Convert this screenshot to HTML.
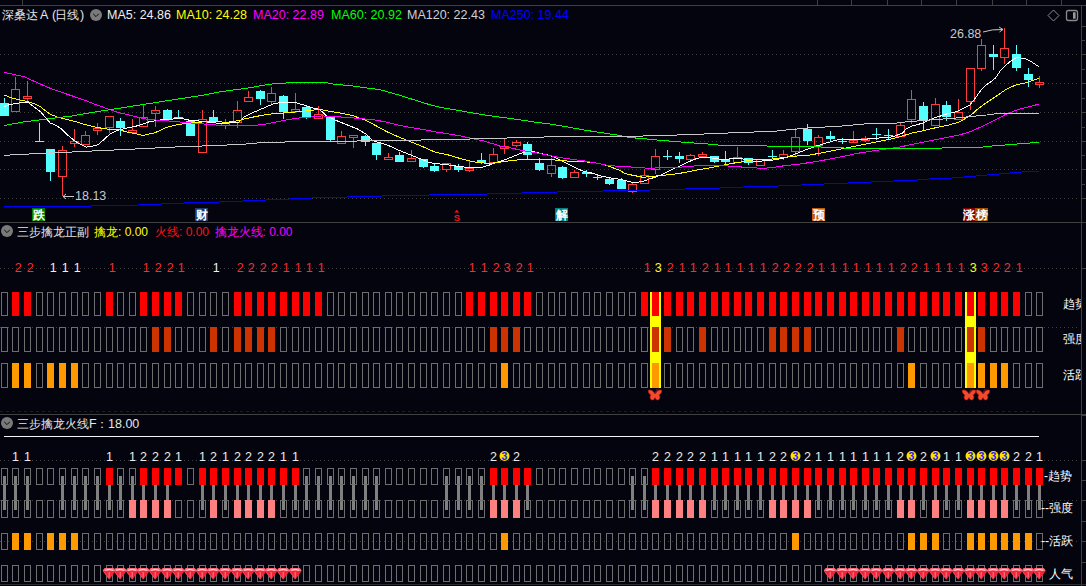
<!DOCTYPE html><html><head><meta charset="utf-8"><style>html,body{margin:0;padding:0;background:#04040e;overflow:hidden}svg{display:block}text{font-family:"Liberation Sans",sans-serif}</style></head><body><svg width="1086" height="586" viewBox="0 0 1086 586" font-family="Liberation Sans, sans-serif">
<rect width="1086" height="586" fill="#04040e"/>
<defs><g id="gem"><path d="M2.2 0 L10.6 0 Q11.8 0.5 12.8 3 L6.4 11.8 L0 3 Q1 0.5 2.2 0 Z" fill="#f22436"/><path d="M2.2 0 L10.6 0 Q11.8 0.5 12.8 3 L0 3 Q1 0.5 2.2 0 Z" fill="#ff6a7a"/><path d="M2.4 2.3 Q6.4 0.4 10.4 2.3" stroke="#ffe4e8" stroke-width="1" fill="none"/><path d="M6.4 4 L6.4 9.5" stroke="#ff8a96" stroke-width="0.9"/><path d="M1 3.6 L6.4 10.8" stroke="#ff5a6a" stroke-width="0.7"/></g><g id="bfly"><path d="M7 5 C6 2.5,3 0.5,1 1 C-0.5 1.5,0.5 4.5,3 6 C1.5 7.5,2 10.5,4 11 C5.5 11.5,6.5 9.5,7 8.5 C7.5 9.5,8.5 11.5,10 11 C12 10.5,12.5 7.5,11 6 C13.5 4.5,14.5 1.5,13 1 C11 0.5,8 2.5,7 5 Z" fill="#f24a2c" stroke="#c81a14" stroke-width="0.6"/><path d="M7 5 L8.6 0.2 M7.4 5 L10.6 -0.4" stroke="#901818" stroke-width="0.7"/></g></defs>
<rect x="0" y="5" width="1086" height="1" fill="#404040"/>
<rect x="22" y="0" width="1" height="5" fill="#404040"/>
<rect x="817" y="0" width="1" height="5" fill="#404040"/>
<rect x="851" y="0" width="1" height="5" fill="#404040"/>
<rect x="887" y="0" width="1" height="5" fill="#404040"/>
<rect x="921" y="0" width="1" height="5" fill="#404040"/>
<rect x="956" y="0" width="1" height="5" fill="#404040"/>
<rect x="992" y="0" width="1" height="5" fill="#404040"/>
<rect x="1026" y="0" width="1" height="5" fill="#404040"/>
<rect x="1061" y="0" width="1" height="5" fill="#404040"/>
<rect x="1081" y="6" width="1" height="580" fill="#404040"/>
<text y="19" fill="#e6e6e6"><tspan x="2" font-size="12">深桑达</tspan><tspan x="40" font-size="12.5">A</tspan><tspan x="52" font-size="12.5">(</tspan><tspan x="55" font-size="12">日线</tspan><tspan x="80" font-size="12.5">)</tspan></text>
<circle cx="96" cy="15" r="6" fill="#7a7a7a"/><path d="M93.2 13.8 L96 16.6 L98.8 13.8" fill="none" stroke="#0a0a0a" stroke-width="1"/>
<text x="107" y="19" font-size="12.5" fill="#f0f0f0">MA5: 24.86</text>
<text x="176" y="19" font-size="12.5" fill="#ffff00">MA10: 24.28</text>
<text x="253" y="19" font-size="12.5" fill="#ff00ff">MA20: 22.89</text>
<text x="331" y="19" font-size="12.5" fill="#00ff00">MA60: 20.92</text>
<text x="407" y="19" font-size="12.5" fill="#d0d0d0">MA120: 22.43</text>
<text x="491" y="19" font-size="12.5" fill="#0000ff">MA250: 19.44</text>
<path d="M1053.5 10 L1059 15.5 L1053.5 21 L1048 15.5 Z" fill="none" stroke="#8a8a8a" stroke-width="1"/>
<rect x="1066.5" y="10.5" width="11" height="10" rx="2" fill="none" stroke="#8a8a8a" stroke-width="1.3"/><rect x="1073" y="12.3" width="2.6" height="6.4" fill="#9a9a9a"/>
<line x1="0" y1="54.5" x2="1077" y2="54.5" stroke="#3c3c3c" stroke-width="1" stroke-dasharray="1 3"/>
<line x1="0" y1="83.5" x2="1077" y2="83.5" stroke="#3c3c3c" stroke-width="1" stroke-dasharray="1 3"/>
<line x1="0" y1="112.5" x2="1077" y2="112.5" stroke="#3c3c3c" stroke-width="1" stroke-dasharray="1 3"/>
<line x1="0" y1="141.5" x2="1077" y2="141.5" stroke="#3c3c3c" stroke-width="1" stroke-dasharray="1 3"/>
<line x1="0" y1="169.5" x2="1077" y2="169.5" stroke="#3c3c3c" stroke-width="1" stroke-dasharray="1 3"/>
<line x1="0" y1="198.5" x2="1077" y2="198.5" stroke="#3c3c3c" stroke-width="1" stroke-dasharray="1 3"/>
<rect x="1082" y="26" width="4" height="1" fill="#404040"/>
<rect x="1082" y="54" width="4" height="1" fill="#404040"/>
<rect x="1082" y="83" width="4" height="1" fill="#404040"/>
<rect x="1082" y="112" width="4" height="1" fill="#404040"/>
<rect x="1082" y="141" width="4" height="1" fill="#404040"/>
<rect x="1082" y="169" width="4" height="1" fill="#404040"/>
<rect x="1082" y="198" width="4" height="1" fill="#404040"/>
<rect x="1082" y="40" width="3" height="1" fill="#404040"/>
<rect x="1082" y="69" width="3" height="1" fill="#404040"/>
<rect x="1082" y="98" width="3" height="1" fill="#404040"/>
<rect x="1082" y="127" width="3" height="1" fill="#404040"/>
<rect x="1082" y="155" width="3" height="1" fill="#404040"/>
<rect x="1082" y="184" width="3" height="1" fill="#404040"/>
<line x1="4.5" y1="98" x2="4.5" y2="116" stroke="#54ffff"/>
<rect x="0" y="103" width="9" height="13" fill="#54ffff"/>
<line x1="15.5" y1="77" x2="15.5" y2="89" stroke="#ff3c3c"/>
<line x1="15.5" y1="112" x2="15.5" y2="112" stroke="#ff3c3c"/>
<rect x="11.5" y="89.5" width="8" height="22" fill="none" stroke="#ff3c3c" stroke-width="1"/>
<line x1="27.5" y1="81" x2="27.5" y2="96" stroke="#ff3c3c"/>
<line x1="27.5" y1="99" x2="27.5" y2="102" stroke="#ff3c3c"/>
<rect x="23.5" y="96.5" width="8" height="2" fill="none" stroke="#ff3c3c" stroke-width="1"/>
<line x1="39.5" y1="123" x2="39.5" y2="141" stroke="#54ffff"/>
<rect x="35" y="141" width="9" height="1" fill="#54ffff"/>
<line x1="50.5" y1="149" x2="50.5" y2="181" stroke="#54ffff"/>
<rect x="46" y="149" width="9" height="23" fill="#54ffff"/>
<line x1="62.5" y1="146" x2="62.5" y2="150" stroke="#ff3c3c"/>
<line x1="62.5" y1="177" x2="62.5" y2="196" stroke="#ff3c3c"/>
<rect x="58.5" y="150.5" width="8" height="26" fill="none" stroke="#ff3c3c" stroke-width="1"/>
<line x1="74.5" y1="129" x2="74.5" y2="141" stroke="#ff3c3c"/>
<line x1="74.5" y1="144" x2="74.5" y2="147" stroke="#ff3c3c"/>
<rect x="70.5" y="141.5" width="8" height="2" fill="none" stroke="#ff3c3c" stroke-width="1"/>
<line x1="85.5" y1="131" x2="85.5" y2="135" stroke="#ff3c3c"/>
<line x1="85.5" y1="145" x2="85.5" y2="145" stroke="#ff3c3c"/>
<rect x="81.5" y="135.5" width="8" height="9" fill="none" stroke="#ff3c3c" stroke-width="1"/>
<line x1="97.5" y1="123" x2="97.5" y2="128" stroke="#ff3c3c"/>
<line x1="97.5" y1="131" x2="97.5" y2="135" stroke="#ff3c3c"/>
<rect x="93.5" y="128.5" width="8" height="2" fill="none" stroke="#ff3c3c" stroke-width="1"/>
<line x1="109.5" y1="116" x2="109.5" y2="116" stroke="#ff3c3c"/>
<line x1="109.5" y1="128" x2="109.5" y2="133" stroke="#ff3c3c"/>
<rect x="105.5" y="116.5" width="8" height="11" fill="none" stroke="#ff3c3c" stroke-width="1"/>
<line x1="120.5" y1="118" x2="120.5" y2="136" stroke="#54ffff"/>
<rect x="116" y="121" width="9" height="7" fill="#54ffff"/>
<line x1="132.5" y1="119" x2="132.5" y2="130" stroke="#ff3c3c"/>
<line x1="132.5" y1="133" x2="132.5" y2="132" stroke="#ff3c3c"/>
<rect x="128.5" y="130.5" width="8" height="2" fill="none" stroke="#ff3c3c" stroke-width="1"/>
<line x1="143.5" y1="105" x2="143.5" y2="117" stroke="#ff3c3c"/>
<line x1="143.5" y1="127" x2="143.5" y2="127" stroke="#ff3c3c"/>
<rect x="139.5" y="117.5" width="8" height="9" fill="none" stroke="#ff3c3c" stroke-width="1"/>
<line x1="155.5" y1="106" x2="155.5" y2="110" stroke="#ff3c3c"/>
<line x1="155.5" y1="114" x2="155.5" y2="127" stroke="#ff3c3c"/>
<rect x="151.5" y="110.5" width="8" height="3" fill="none" stroke="#ff3c3c" stroke-width="1"/>
<line x1="167.5" y1="109" x2="167.5" y2="119" stroke="#54ffff"/>
<rect x="163" y="110" width="9" height="9" fill="#54ffff"/>
<line x1="178.5" y1="110" x2="178.5" y2="119" stroke="#54ffff"/>
<rect x="174" y="117" width="9" height="2" fill="#54ffff"/>
<line x1="190.5" y1="120" x2="190.5" y2="136" stroke="#54ffff"/>
<rect x="186" y="121" width="9" height="15" fill="#54ffff"/>
<line x1="202.5" y1="110" x2="202.5" y2="119" stroke="#ff3c3c"/>
<line x1="202.5" y1="153" x2="202.5" y2="153" stroke="#ff3c3c"/>
<rect x="198.5" y="119.5" width="8" height="33" fill="none" stroke="#ff3c3c" stroke-width="1"/>
<line x1="213.5" y1="110" x2="213.5" y2="122" stroke="#54ffff"/>
<rect x="209" y="117" width="9" height="5" fill="#54ffff"/>
<line x1="225.5" y1="119" x2="225.5" y2="123" stroke="#ff3c3c"/>
<line x1="225.5" y1="126" x2="225.5" y2="129" stroke="#ff3c3c"/>
<rect x="221.5" y="123.5" width="8" height="2" fill="none" stroke="#ff3c3c" stroke-width="1"/>
<line x1="237.5" y1="101" x2="237.5" y2="110" stroke="#ff3c3c"/>
<line x1="237.5" y1="123" x2="237.5" y2="128" stroke="#ff3c3c"/>
<rect x="233.5" y="110.5" width="8" height="12" fill="none" stroke="#ff3c3c" stroke-width="1"/>
<line x1="248.5" y1="91" x2="248.5" y2="97" stroke="#ff3c3c"/>
<line x1="248.5" y1="102" x2="248.5" y2="102" stroke="#ff3c3c"/>
<rect x="244.5" y="97.5" width="8" height="4" fill="none" stroke="#ff3c3c" stroke-width="1"/>
<line x1="260.5" y1="90" x2="260.5" y2="105" stroke="#54ffff"/>
<rect x="256" y="91" width="9" height="8" fill="#54ffff"/>
<line x1="271.5" y1="87" x2="271.5" y2="93" stroke="#ff3c3c"/>
<line x1="271.5" y1="102" x2="271.5" y2="104" stroke="#ff3c3c"/>
<rect x="267.5" y="93.5" width="8" height="8" fill="none" stroke="#ff3c3c" stroke-width="1"/>
<line x1="283.5" y1="95" x2="283.5" y2="119" stroke="#54ffff"/>
<rect x="279" y="96" width="9" height="16" fill="#54ffff"/>
<line x1="295.5" y1="93" x2="295.5" y2="109" stroke="#ff3c3c"/>
<line x1="295.5" y1="112" x2="295.5" y2="113" stroke="#ff3c3c"/>
<rect x="291.5" y="109.5" width="8" height="2" fill="none" stroke="#ff3c3c" stroke-width="1"/>
<line x1="306.5" y1="105" x2="306.5" y2="119" stroke="#54ffff"/>
<rect x="302" y="107" width="9" height="10" fill="#54ffff"/>
<line x1="318.5" y1="106" x2="318.5" y2="114" stroke="#ff3c3c"/>
<line x1="318.5" y1="119" x2="318.5" y2="119" stroke="#ff3c3c"/>
<rect x="314.5" y="114.5" width="8" height="4" fill="none" stroke="#ff3c3c" stroke-width="1"/>
<line x1="330.5" y1="116" x2="330.5" y2="141" stroke="#54ffff"/>
<rect x="326" y="116" width="9" height="24" fill="#54ffff"/>
<line x1="341.5" y1="131" x2="341.5" y2="136" stroke="#ff3c3c"/>
<line x1="341.5" y1="144" x2="341.5" y2="144" stroke="#ff3c3c"/>
<rect x="337.5" y="136.5" width="8" height="7" fill="none" stroke="#ff3c3c" stroke-width="1"/>
<line x1="353.5" y1="135" x2="353.5" y2="135" stroke="#ff3c3c"/>
<line x1="353.5" y1="138" x2="353.5" y2="148" stroke="#ff3c3c"/>
<rect x="349.5" y="135.5" width="8" height="2" fill="none" stroke="#ff3c3c" stroke-width="1"/>
<line x1="365.5" y1="135" x2="365.5" y2="146" stroke="#54ffff"/>
<rect x="361" y="136" width="9" height="6" fill="#54ffff"/>
<line x1="376.5" y1="143" x2="376.5" y2="160" stroke="#54ffff"/>
<rect x="372" y="143" width="9" height="12" fill="#54ffff"/>
<line x1="388.5" y1="153" x2="388.5" y2="157" stroke="#ff3c3c"/>
<line x1="388.5" y1="160" x2="388.5" y2="160" stroke="#ff3c3c"/>
<rect x="384.5" y="157.5" width="8" height="2" fill="none" stroke="#ff3c3c" stroke-width="1"/>
<line x1="399.5" y1="152" x2="399.5" y2="162" stroke="#54ffff"/>
<rect x="395" y="155" width="9" height="7" fill="#54ffff"/>
<line x1="411.5" y1="150" x2="411.5" y2="158" stroke="#ff3c3c"/>
<line x1="411.5" y1="162" x2="411.5" y2="162" stroke="#ff3c3c"/>
<rect x="407.5" y="158.5" width="8" height="3" fill="none" stroke="#ff3c3c" stroke-width="1"/>
<line x1="423.5" y1="159" x2="423.5" y2="168" stroke="#54ffff"/>
<rect x="419" y="159" width="9" height="8" fill="#54ffff"/>
<line x1="434.5" y1="164" x2="434.5" y2="172" stroke="#54ffff"/>
<rect x="430" y="166" width="9" height="5" fill="#54ffff"/>
<line x1="446.5" y1="163" x2="446.5" y2="163" stroke="#ff3c3c"/>
<line x1="446.5" y1="170" x2="446.5" y2="172" stroke="#ff3c3c"/>
<rect x="442.5" y="163.5" width="8" height="6" fill="none" stroke="#ff3c3c" stroke-width="1"/>
<line x1="458.5" y1="164" x2="458.5" y2="172" stroke="#54ffff"/>
<rect x="454" y="166" width="9" height="4" fill="#54ffff"/>
<line x1="469.5" y1="160" x2="469.5" y2="168" stroke="#ff3c3c"/>
<line x1="469.5" y1="171" x2="469.5" y2="172" stroke="#ff3c3c"/>
<rect x="465.5" y="168.5" width="8" height="2" fill="none" stroke="#ff3c3c" stroke-width="1"/>
<line x1="481.5" y1="153" x2="481.5" y2="164" stroke="#54ffff"/>
<rect x="477" y="160" width="9" height="3" fill="#54ffff"/>
<line x1="493.5" y1="148" x2="493.5" y2="154" stroke="#ff3c3c"/>
<line x1="493.5" y1="163" x2="493.5" y2="163" stroke="#ff3c3c"/>
<rect x="489.5" y="154.5" width="8" height="8" fill="none" stroke="#ff3c3c" stroke-width="1"/>
<line x1="504.5" y1="139" x2="504.5" y2="146" stroke="#ff3c3c"/>
<line x1="504.5" y1="149" x2="504.5" y2="154" stroke="#ff3c3c"/>
<rect x="500.5" y="146.5" width="8" height="2" fill="none" stroke="#ff3c3c" stroke-width="1"/>
<line x1="516.5" y1="140" x2="516.5" y2="142" stroke="#ff3c3c"/>
<line x1="516.5" y1="146" x2="516.5" y2="147" stroke="#ff3c3c"/>
<rect x="512.5" y="142.5" width="8" height="3" fill="none" stroke="#ff3c3c" stroke-width="1"/>
<line x1="527.5" y1="142" x2="527.5" y2="160" stroke="#54ffff"/>
<rect x="523" y="144" width="9" height="11" fill="#54ffff"/>
<line x1="539.5" y1="158" x2="539.5" y2="171" stroke="#54ffff"/>
<rect x="535" y="163" width="9" height="7" fill="#54ffff"/>
<line x1="551.5" y1="158" x2="551.5" y2="165" stroke="#ff3c3c"/>
<line x1="551.5" y1="174" x2="551.5" y2="177" stroke="#ff3c3c"/>
<rect x="547.5" y="165.5" width="8" height="8" fill="none" stroke="#ff3c3c" stroke-width="1"/>
<line x1="562.5" y1="166" x2="562.5" y2="179" stroke="#54ffff"/>
<rect x="558" y="167" width="9" height="11" fill="#54ffff"/>
<line x1="574.5" y1="170" x2="574.5" y2="172" stroke="#ff3c3c"/>
<line x1="574.5" y1="178" x2="574.5" y2="178" stroke="#ff3c3c"/>
<rect x="570.5" y="172.5" width="8" height="5" fill="none" stroke="#ff3c3c" stroke-width="1"/>
<line x1="586.5" y1="170" x2="586.5" y2="177" stroke="#54ffff"/>
<rect x="582" y="172" width="9" height="2" fill="#54ffff"/>
<line x1="597.5" y1="174" x2="597.5" y2="180" stroke="#54ffff"/>
<rect x="593" y="177" width="9" height="1" fill="#54ffff"/>
<line x1="609.5" y1="177" x2="609.5" y2="185" stroke="#54ffff"/>
<rect x="605" y="179" width="9" height="5" fill="#54ffff"/>
<line x1="621.5" y1="178" x2="621.5" y2="189" stroke="#54ffff"/>
<rect x="617" y="180" width="9" height="9" fill="#54ffff"/>
<line x1="632.5" y1="182" x2="632.5" y2="184" stroke="#ff3c3c"/>
<line x1="632.5" y1="192" x2="632.5" y2="193" stroke="#ff3c3c"/>
<rect x="628.5" y="184.5" width="8" height="7" fill="none" stroke="#ff3c3c" stroke-width="1"/>
<line x1="644.5" y1="169" x2="644.5" y2="175" stroke="#ff3c3c"/>
<line x1="644.5" y1="184" x2="644.5" y2="184" stroke="#ff3c3c"/>
<rect x="640.5" y="175.5" width="8" height="8" fill="none" stroke="#ff3c3c" stroke-width="1"/>
<line x1="655.5" y1="149" x2="655.5" y2="156" stroke="#ff3c3c"/>
<line x1="655.5" y1="170" x2="655.5" y2="174" stroke="#ff3c3c"/>
<rect x="651.5" y="156.5" width="8" height="13" fill="none" stroke="#ff3c3c" stroke-width="1"/>
<line x1="667.5" y1="150" x2="667.5" y2="160" stroke="#54ffff"/>
<rect x="663" y="156" width="9" height="1" fill="#54ffff"/>
<line x1="679.5" y1="152" x2="679.5" y2="163" stroke="#54ffff"/>
<rect x="675" y="156" width="9" height="3" fill="#54ffff"/>
<line x1="690.5" y1="154" x2="690.5" y2="155" stroke="#ff3c3c"/>
<line x1="690.5" y1="160" x2="690.5" y2="160" stroke="#ff3c3c"/>
<rect x="686.5" y="155.5" width="8" height="4" fill="none" stroke="#ff3c3c" stroke-width="1"/>
<line x1="702.5" y1="152" x2="702.5" y2="154" stroke="#ff3c3c"/>
<line x1="702.5" y1="157" x2="702.5" y2="157" stroke="#ff3c3c"/>
<rect x="698.5" y="154.5" width="8" height="2" fill="none" stroke="#ff3c3c" stroke-width="1"/>
<line x1="714.5" y1="156" x2="714.5" y2="163" stroke="#54ffff"/>
<rect x="710" y="156" width="9" height="6" fill="#54ffff"/>
<line x1="725.5" y1="151" x2="725.5" y2="164" stroke="#54ffff"/>
<rect x="721" y="159" width="9" height="3" fill="#54ffff"/>
<line x1="737.5" y1="147" x2="737.5" y2="157" stroke="#ff3c3c"/>
<line x1="737.5" y1="163" x2="737.5" y2="163" stroke="#ff3c3c"/>
<rect x="733.5" y="157.5" width="8" height="5" fill="none" stroke="#ff3c3c" stroke-width="1"/>
<line x1="748.5" y1="158" x2="748.5" y2="165" stroke="#54ffff"/>
<rect x="744" y="158" width="9" height="5" fill="#54ffff"/>
<line x1="760.5" y1="159" x2="760.5" y2="159" stroke="#ff3c3c"/>
<line x1="760.5" y1="166" x2="760.5" y2="166" stroke="#ff3c3c"/>
<rect x="756.5" y="159.5" width="8" height="6" fill="none" stroke="#ff3c3c" stroke-width="1"/>
<line x1="772.5" y1="150" x2="772.5" y2="159" stroke="#54ffff"/>
<rect x="768" y="156" width="9" height="1" fill="#54ffff"/>
<line x1="783.5" y1="150" x2="783.5" y2="154" stroke="#ff3c3c"/>
<line x1="783.5" y1="158" x2="783.5" y2="160" stroke="#ff3c3c"/>
<rect x="779.5" y="154.5" width="8" height="3" fill="none" stroke="#ff3c3c" stroke-width="1"/>
<line x1="795.5" y1="128" x2="795.5" y2="137" stroke="#ff3c3c"/>
<line x1="795.5" y1="152" x2="795.5" y2="157" stroke="#ff3c3c"/>
<rect x="791.5" y="137.5" width="8" height="14" fill="none" stroke="#ff3c3c" stroke-width="1"/>
<line x1="807.5" y1="124" x2="807.5" y2="145" stroke="#54ffff"/>
<rect x="803" y="129" width="9" height="12" fill="#54ffff"/>
<line x1="818.5" y1="135" x2="818.5" y2="137" stroke="#ff3c3c"/>
<line x1="818.5" y1="146" x2="818.5" y2="156" stroke="#ff3c3c"/>
<rect x="814.5" y="137.5" width="8" height="8" fill="none" stroke="#ff3c3c" stroke-width="1"/>
<line x1="830.5" y1="131" x2="830.5" y2="141" stroke="#54ffff"/>
<rect x="826" y="136" width="9" height="3" fill="#54ffff"/>
<line x1="842.5" y1="138" x2="842.5" y2="144" stroke="#54ffff"/>
<rect x="838" y="141" width="9" height="1" fill="#54ffff"/>
<line x1="853.5" y1="131" x2="853.5" y2="140" stroke="#ff3c3c"/>
<line x1="853.5" y1="143" x2="853.5" y2="141" stroke="#ff3c3c"/>
<rect x="849.5" y="140.5" width="8" height="2" fill="none" stroke="#ff3c3c" stroke-width="1"/>
<line x1="865.5" y1="136" x2="865.5" y2="138" stroke="#ff3c3c"/>
<line x1="865.5" y1="141" x2="865.5" y2="142" stroke="#ff3c3c"/>
<rect x="861.5" y="138.5" width="8" height="2" fill="none" stroke="#ff3c3c" stroke-width="1"/>
<line x1="876.5" y1="128" x2="876.5" y2="140" stroke="#54ffff"/>
<rect x="872" y="134" width="9" height="1" fill="#54ffff"/>
<line x1="888.5" y1="129" x2="888.5" y2="139" stroke="#54ffff"/>
<rect x="884" y="135" width="9" height="1" fill="#54ffff"/>
<line x1="900.5" y1="123" x2="900.5" y2="125" stroke="#ff3c3c"/>
<line x1="900.5" y1="137" x2="900.5" y2="137" stroke="#ff3c3c"/>
<rect x="896.5" y="125.5" width="8" height="11" fill="none" stroke="#ff3c3c" stroke-width="1"/>
<line x1="911.5" y1="90" x2="911.5" y2="99" stroke="#ff3c3c"/>
<line x1="911.5" y1="120" x2="911.5" y2="124" stroke="#ff3c3c"/>
<rect x="907.5" y="99.5" width="8" height="20" fill="none" stroke="#ff3c3c" stroke-width="1"/>
<line x1="923.5" y1="102" x2="923.5" y2="130" stroke="#54ffff"/>
<rect x="919" y="106" width="9" height="15" fill="#54ffff"/>
<line x1="935.5" y1="98" x2="935.5" y2="104" stroke="#ff3c3c"/>
<line x1="935.5" y1="126" x2="935.5" y2="126" stroke="#ff3c3c"/>
<rect x="931.5" y="104.5" width="8" height="21" fill="none" stroke="#ff3c3c" stroke-width="1"/>
<line x1="946.5" y1="101" x2="946.5" y2="121" stroke="#54ffff"/>
<rect x="942" y="105" width="9" height="12" fill="#54ffff"/>
<line x1="958.5" y1="99" x2="958.5" y2="112" stroke="#ff3c3c"/>
<line x1="958.5" y1="120" x2="958.5" y2="120" stroke="#ff3c3c"/>
<rect x="954.5" y="112.5" width="8" height="7" fill="none" stroke="#ff3c3c" stroke-width="1"/>
<line x1="970.5" y1="68" x2="970.5" y2="68" stroke="#ff3c3c"/>
<line x1="970.5" y1="102" x2="970.5" y2="110" stroke="#ff3c3c"/>
<rect x="966.5" y="68.5" width="8" height="33" fill="none" stroke="#ff3c3c" stroke-width="1"/>
<line x1="981.5" y1="39" x2="981.5" y2="45" stroke="#ff3c3c"/>
<line x1="981.5" y1="69" x2="981.5" y2="71" stroke="#ff3c3c"/>
<rect x="977.5" y="45.5" width="8" height="23" fill="none" stroke="#ff3c3c" stroke-width="1"/>
<line x1="993.5" y1="45" x2="993.5" y2="70" stroke="#54ffff"/>
<rect x="989" y="54" width="9" height="3" fill="#54ffff"/>
<line x1="1004.5" y1="28" x2="1004.5" y2="48" stroke="#ff3c3c"/>
<line x1="1004.5" y1="58" x2="1004.5" y2="64" stroke="#ff3c3c"/>
<rect x="1000.5" y="48.5" width="8" height="9" fill="none" stroke="#ff3c3c" stroke-width="1"/>
<line x1="1016.5" y1="45" x2="1016.5" y2="71" stroke="#54ffff"/>
<rect x="1012" y="54" width="9" height="14" fill="#54ffff"/>
<line x1="1028.5" y1="68" x2="1028.5" y2="87" stroke="#54ffff"/>
<rect x="1024" y="74" width="9" height="6" fill="#54ffff"/>
<line x1="1039.5" y1="76" x2="1039.5" y2="82" stroke="#ff3c3c"/>
<line x1="1039.5" y1="85" x2="1039.5" y2="88" stroke="#ff3c3c"/>
<rect x="1035.5" y="82.5" width="8" height="2" fill="none" stroke="#ff3c3c" stroke-width="1"/>
<rect x="4" y="206" width="87" height="1" fill="#0000ff"/>
<rect x="91" y="205" width="47" height="1" fill="#0000ff"/>
<rect x="138" y="204" width="23" height="1" fill="#0000ff"/>
<rect x="161" y="203" width="23" height="1" fill="#0000ff"/>
<rect x="184" y="202" width="35" height="1" fill="#0000ff"/>
<rect x="219" y="201" width="24" height="1" fill="#0000ff"/>
<rect x="243" y="200" width="23" height="1" fill="#0000ff"/>
<rect x="266" y="199" width="23" height="1" fill="#0000ff"/>
<rect x="289" y="198" width="23" height="1" fill="#0000ff"/>
<rect x="312" y="197" width="35" height="1" fill="#0000ff"/>
<rect x="347" y="196" width="35" height="1" fill="#0000ff"/>
<rect x="382" y="195" width="47" height="1" fill="#0000ff"/>
<rect x="429" y="194" width="58" height="1" fill="#0000ff"/>
<rect x="487" y="193" width="35" height="1" fill="#0000ff"/>
<rect x="522" y="192" width="35" height="1" fill="#0000ff"/>
<rect x="557" y="191" width="46" height="1" fill="#0000ff"/>
<rect x="603" y="190" width="47" height="1" fill="#0000ff"/>
<rect x="650" y="189" width="35" height="1" fill="#0000ff"/>
<rect x="685" y="188" width="35" height="1" fill="#0000ff"/>
<rect x="720" y="187" width="23" height="1" fill="#0000ff"/>
<rect x="743" y="186" width="35" height="1" fill="#0000ff"/>
<rect x="778" y="185" width="23" height="1" fill="#0000ff"/>
<rect x="801" y="184" width="23" height="1" fill="#0000ff"/>
<rect x="824" y="183" width="24" height="1" fill="#0000ff"/>
<rect x="848" y="182" width="23" height="1" fill="#0000ff"/>
<rect x="871" y="181" width="23" height="1" fill="#0000ff"/>
<rect x="894" y="180" width="23" height="1" fill="#0000ff"/>
<rect x="917" y="179" width="12" height="1" fill="#0000ff"/>
<rect x="929" y="178" width="23" height="1" fill="#0000ff"/>
<rect x="952" y="177" width="12" height="1" fill="#0000ff"/>
<rect x="964" y="176" width="12" height="1" fill="#0000ff"/>
<rect x="976" y="175" width="11" height="1" fill="#0000ff"/>
<rect x="987" y="174" width="12" height="1" fill="#0000ff"/>
<rect x="999" y="173" width="11" height="1" fill="#0000ff"/>
<rect x="1010" y="172" width="12" height="1" fill="#0000ff"/>
<rect x="1022" y="171" width="17" height="1" fill="#0000ff"/>
<polyline points="4.2,106.4 10.8,104.3 16.8,103.4 21.5,102.4 27.5,102.2 31.1,104.6 35.9,108.2 40.7,111.8 45.5,117.7 50.3,123.1 55.1,124.9 61.0,128.5 67.0,134.5 74.2,140.5 79.0,143.5 86.2,147.1 92.2,146.2 98.2,144.7 104.1,139.3 110.1,133.9 116.1,130.9 124.5,128.5 137.0,125.9 148.9,121.9 160.9,119.9 170.5,119.5 176.5,118.3 181.3,118.3 187.2,119.9 196.8,120.7 208.8,122.3 220.8,123.5 232.7,122.8 238.7,122.3 244.7,116.5 250.7,113.6 262.0,108.7 273.9,103.7 281.1,102.5 295.5,102.5 303.9,105.1 312.2,107.8 319.4,109.3 326.6,115.9 333.8,119.5 345.8,124.3 357.7,129.1 365.9,134.1 371.8,140.0 375.0,141.3 381.0,143.1 387.0,144.9 398.9,150.3 410.9,155.1 422.9,159.9 428.9,162.3 434.9,163.5 446.8,164.7 458.8,166.5 470.8,167.7 476.7,167.4 482.7,167.1 488.7,165.3 494.7,162.9 500.0,161.4 506.0,159.3 512.0,156.9 518.0,154.5 523.9,152.1 531.1,151.5 535.9,152.1 541.9,153.7 547.9,155.1 553.9,156.9 559.9,159.9 565.8,162.9 571.8,165.9 577.8,168.9 583.8,171.3 589.8,172.5 595.8,174.3 601.7,176.1 607.7,177.3 613.7,178.5 619.7,179.3 625.0,180.3 631.0,182.1 637.0,182.3 643.0,181.5 648.9,179.1 654.9,177.3 660.9,174.9 666.9,171.9 672.9,168.9 678.9,166.5 684.9,163.5 690.8,160.9 696.8,158.5 702.8,157.3 708.8,157.5 714.8,158.5 720.8,159.3 726.7,159.3 732.7,158.5 738.7,158.5 744.7,159.3 750.0,160.7 756.0,161.3 768.0,160.7 779.9,158.9 785.9,157.7 791.9,155.3 797.9,152.9 803.9,150.5 809.9,148.5 815.8,146.1 821.8,144.5 827.8,142.5 833.8,140.9 839.8,139.4 851.7,139.4 863.7,139.2 869.7,138.9 875.0,138.3 887.0,137.5 893.0,136.7 898.9,134.5 902.5,133.1 906.1,129.1 910.9,126.4 916.9,124.7 922.9,123.1 928.9,120.1 934.9,117.7 940.8,115.9 946.8,113.9 952.8,112.7 958.8,110.8 965.0,107.4 970.1,104.8 975.2,98.2 980.4,91.0 985.5,85.3 990.6,82.0 995.7,77.7 1000.9,70.0 1006.0,64.9 1011.1,60.8 1016.2,57.7 1021.4,58.0 1026.5,59.2 1031.6,61.8 1036.7,65.4 1038.8,66.6" fill="none" stroke="#ffffff" stroke-width="1" shape-rendering="crispEdges"/>
<polyline points="4.2,95.0 12.0,98.0 19.2,99.8 27.5,101.6 34.7,104.0 40.7,107.0 46.7,111.8 51.5,114.8 57.5,117.1 67.0,119.5 76.6,121.9 86.2,124.9 95.8,127.3 107.7,129.1 119.7,129.7 125.0,131.5 134.6,133.5 143.0,135.5 154.9,132.7 166.9,127.3 178.9,124.3 190.8,123.1 202.8,121.9 214.8,121.6 226.7,122.3 238.7,120.7 244.7,118.9 250.0,117.7 262.0,115.3 273.9,113.5 285.9,112.9 297.9,111.7 309.9,110.5 319.4,109.3 327.8,110.9 339.8,112.9 351.7,115.3 363.7,119.5 375.0,125.2 387.0,131.8 398.9,137.1 410.9,141.9 422.9,146.7 434.9,152.1 446.8,154.5 458.8,158.1 470.8,161.1 476.7,162.3 488.7,163.5 500.0,162.1 512.0,160.5 523.9,159.3 535.9,159.7 547.9,159.3 559.9,160.5 571.8,161.4 583.8,161.7 595.8,162.9 601.7,164.1 607.7,165.7 613.7,168.1 619.7,170.1 625.0,173.7 637.0,176.1 643.0,177.3 648.9,176.7 660.9,175.5 672.9,174.3 684.9,172.5 696.8,170.1 708.8,168.1 720.8,165.7 732.7,163.3 744.7,161.4 750.0,160.1 762.0,159.5 773.9,158.9 785.9,157.1 797.9,155.9 809.9,155.0 821.8,152.9 833.8,150.5 845.8,148.1 857.7,145.7 869.7,143.3 875.0,142.3 887.0,139.9 898.9,137.1 910.9,133.3 922.9,130.9 934.9,127.9 946.8,125.5 958.8,122.3 964.8,118.9 970.8,115.3 977.3,109.4 985.5,103.3 995.7,96.6 1006.0,89.4 1016.2,84.8 1026.5,82.6 1032.6,80.5 1038.8,78.2" fill="none" stroke="#ffff00" stroke-width="1" shape-rendering="crispEdges"/>
<polyline points="4.0,72.3 24.0,76.7 48.0,87.5 69.4,95.0 83.8,99.8 95.8,104.6 107.7,108.8 119.7,113.0 125.0,113.9 137.0,117.1 148.9,119.5 160.9,120.4 172.9,121.3 184.9,122.5 196.8,123.5 208.8,124.3 220.8,125.5 232.7,125.5 250.0,125.2 262.0,124.9 273.9,122.5 285.9,120.1 297.9,118.1 309.9,117.1 321.8,115.9 333.8,116.5 345.8,117.3 357.7,118.3 369.7,119.5 375.0,120.0 387.0,122.2 398.9,125.2 410.9,127.6 422.9,129.4 434.9,131.8 446.8,133.6 458.8,135.6 470.8,138.3 482.7,140.7 494.7,144.3 500.0,146.2 512.0,148.2 523.9,150.9 535.9,152.7 547.9,155.1 559.9,157.5 571.8,159.3 583.8,160.9 595.8,162.9 607.7,165.3 619.7,166.5 637.0,167.3 648.9,168.3 660.9,167.7 672.9,167.3 684.9,166.9 696.8,165.7 708.8,165.3 720.8,165.7 732.7,166.2 744.7,167.3 750.0,167.3 762.0,168.5 773.9,167.3 785.9,165.5 797.9,164.3 809.9,162.5 821.8,160.5 833.8,158.3 845.8,155.9 857.7,153.3 869.7,151.4 880.0,149.9 897.7,147.4 910.9,144.7 922.9,142.3 934.9,139.9 946.8,137.5 958.8,135.1 970.8,131.5 982.7,126.1 994.7,120.1 1005.0,114.8 1018.3,109.4 1028.5,106.9 1038.8,104.1" fill="none" stroke="#ff00ff" stroke-width="1" shape-rendering="crispEdges"/>
<polyline points="4.2,125.5 23.9,121.9 47.9,118.9 71.8,116.0 95.8,111.8 119.7,108.2 125.0,107.3 148.9,103.6 172.9,99.8 196.8,96.2 204.0,95.0 220.0,91.8 250.0,87.8 262.0,85.4 273.9,83.8 285.9,83.0 301.5,82.2 324.2,82.4 336.2,84.5 348.2,85.4 357.7,86.6 369.7,88.4 380.0,89.6 401.7,95.9 425.6,103.5 440.0,107.3 463.9,111.4 487.8,115.5 511.7,118.6 535.6,122.2 550.0,124.0 573.9,128.1 583.8,130.0 595.8,131.8 607.7,133.6 619.7,135.4 627.4,137.2 639.4,138.4 650.1,139.3 662.1,140.5 674.1,141.4 684.9,142.3 696.8,143.2 708.8,144.1 720.8,145.3 766.8,145.4 767.4,146.3 809.9,146.6 833.8,147.5 845.8,148.1 875.0,148.6 976.7,147.7 987.5,146.5 999.5,145.3 1005.0,145.0 1021.5,143.6 1038.9,142.4" fill="none" stroke="#00ff00" stroke-width="1" shape-rendering="crispEdges"/>
<polyline points="4.0,155.3 48.0,153.0 72.0,152.0 96.0,150.8 125.0,149.5 148.9,148.3 172.9,147.1 196.8,146.2 220.8,145.3 244.7,144.1 255.0,143.1 267.8,142.5 291.7,141.8 315.6,141.3 339.5,141.3 375.0,140.7 416.9,140.1 475.6,138.9 505.0,138.3 510.2,137.4 579.6,136.6 630.0,136.6 650.1,135.7 684.9,134.8 708.8,133.8 743.5,132.4 750.0,132.2 777.5,131.0 789.5,129.6 801.5,128.6 813.4,127.4 836.2,126.6 848.2,125.4 858.9,124.5 870.9,123.4 893.0,123.5 906.1,121.9 928.9,120.1 952.8,118.3 970.8,116.5 988.7,114.8 999.5,113.2 1038.9,113.3" fill="none" stroke="#c8c8c8" stroke-width="1" shape-rendering="crispEdges"/>
<text x="75" y="200" font-size="12.5" fill="#c8c8c8">18.13</text>
<path d="M63 196.5 L74 196.5 M63 196.5 L66 194 M63 196.5 L66 199" stroke="#c8c8c8" fill="none"/>
<text x="950" y="38" font-size="12.5" fill="#c8c8c8">26.88</text>
<path d="M983 32 Q992 29 1003 29.5 M1003 29.5 L999 27 M1003 29.5 L999.5 32" stroke="#c8c8c8" fill="none"/>
<rect x="32" y="208" width="13" height="13" fill="#008000"/>
<text x="38.5" y="219" font-size="12" font-weight="bold" fill="#ffffff" text-anchor="middle">跌</text>
<rect x="195" y="208" width="13" height="13" fill="#1c3c6c"/>
<text x="201.5" y="219" font-size="12" font-weight="bold" fill="#ffffff" text-anchor="middle">财</text>
<rect x="555" y="208" width="13" height="13" fill="#008080"/>
<text x="561.5" y="219" font-size="12" font-weight="bold" fill="#ffffff" text-anchor="middle">解</text>
<rect x="812" y="208" width="13" height="13" fill="#c05a10"/>
<text x="818.5" y="219" font-size="12" font-weight="bold" fill="#ffffff" text-anchor="middle">预</text>
<rect x="963" y="208" width="12" height="13" fill="#800000"/>
<text x="969.0" y="219" font-size="12" font-weight="bold" fill="#ffffff" text-anchor="middle">涨</text>
<rect x="975" y="208" width="13" height="13" fill="#a05000"/>
<text x="981.5" y="219" font-size="12" font-weight="bold" fill="#ffffff" text-anchor="middle">榜</text>
<path d="M456.8 209.8 L459.3 212.4 L454.3 212.4 Z" fill="#ff1010"/>
<text x="457" y="221" font-size="9.5" font-weight="bold" fill="#ff1010" text-anchor="middle">S</text>
<rect x="0" y="222" width="1086" height="1" fill="#404040"/>
<circle cx="7" cy="231" r="6" fill="#7a7a7a"/><path d="M4.2 229.8 L7 232.6 L9.8 229.8" fill="none" stroke="#0a0a0a" stroke-width="1"/>
<text x="17" y="236" font-size="12" fill="#e6e6e6">三步擒龙正副</text>
<text x="94" y="236" font-size="12" fill="#ffff00">擒龙: 0.00</text>
<text x="155" y="236" font-size="12" fill="#ff1010">火线: 0.00</text>
<text x="214.5" y="236" font-size="12" fill="#ff00ff">擒龙火线: 0.00</text>
<line x1="0" y1="268.5" x2="1077" y2="268.5" stroke="#3c3c3c" stroke-width="1" stroke-dasharray="1 3"/>
<line x1="0" y1="327.5" x2="1077" y2="327.5" stroke="#3c3c3c" stroke-width="1" stroke-dasharray="1 3"/>
<rect x="1082" y="268" width="4" height="1" fill="#404040"/><rect x="1082" y="327" width="4" height="1" fill="#404040"/>
<line x1="0" y1="411.5" x2="1039" y2="411.5" stroke="#1e1e24" stroke-dasharray="3 3"/>
<text x="18.2" y="272" font-size="12.5" fill="#ff2a2a" text-anchor="middle">2</text>
<text x="30.2" y="272" font-size="12.5" fill="#ff2a2a" text-anchor="middle">2</text>
<text x="53.2" y="272" font-size="12.5" fill="#f0f0f0" text-anchor="middle">1</text>
<text x="65.2" y="272" font-size="12.5" fill="#f0f0f0" text-anchor="middle">1</text>
<text x="77.2" y="272" font-size="12.5" fill="#f0f0f0" text-anchor="middle">1</text>
<text x="112.2" y="272" font-size="12.5" fill="#ff2a2a" text-anchor="middle">1</text>
<text x="146.2" y="272" font-size="12.5" fill="#ff2a2a" text-anchor="middle">1</text>
<text x="158.2" y="272" font-size="12.5" fill="#ff2a2a" text-anchor="middle">2</text>
<text x="170.2" y="272" font-size="12.5" fill="#ff2a2a" text-anchor="middle">2</text>
<text x="181.2" y="272" font-size="12.5" fill="#ff2a2a" text-anchor="middle">1</text>
<text x="216.2" y="272" font-size="12.5" fill="#f0f0f0" text-anchor="middle">1</text>
<text x="240.2" y="272" font-size="12.5" fill="#ff2a2a" text-anchor="middle">2</text>
<text x="251.2" y="272" font-size="12.5" fill="#ff2a2a" text-anchor="middle">2</text>
<text x="263.2" y="272" font-size="12.5" fill="#ff2a2a" text-anchor="middle">2</text>
<text x="274.2" y="272" font-size="12.5" fill="#ff2a2a" text-anchor="middle">2</text>
<text x="286.2" y="272" font-size="12.5" fill="#ff2a2a" text-anchor="middle">1</text>
<text x="298.2" y="272" font-size="12.5" fill="#ff2a2a" text-anchor="middle">1</text>
<text x="309.2" y="272" font-size="12.5" fill="#ff2a2a" text-anchor="middle">1</text>
<text x="321.2" y="272" font-size="12.5" fill="#ff2a2a" text-anchor="middle">1</text>
<text x="472.2" y="272" font-size="12.5" fill="#ff2a2a" text-anchor="middle">1</text>
<text x="484.2" y="272" font-size="12.5" fill="#ff2a2a" text-anchor="middle">1</text>
<text x="496.2" y="272" font-size="12.5" fill="#ff2a2a" text-anchor="middle">2</text>
<text x="507.2" y="272" font-size="12.5" fill="#ff2a2a" text-anchor="middle">3</text>
<text x="519.2" y="272" font-size="12.5" fill="#ff2a2a" text-anchor="middle">2</text>
<text x="530.2" y="272" font-size="12.5" fill="#ff2a2a" text-anchor="middle">1</text>
<text x="647.2" y="272" font-size="12.5" fill="#ff2a2a" text-anchor="middle">1</text>
<text x="658.2" y="272" font-size="12.5" fill="#ffff00" text-anchor="middle">3</text>
<text x="670.2" y="272" font-size="12.5" fill="#ff2a2a" text-anchor="middle">2</text>
<text x="682.2" y="272" font-size="12.5" fill="#ff2a2a" text-anchor="middle">1</text>
<text x="693.2" y="272" font-size="12.5" fill="#ff2a2a" text-anchor="middle">1</text>
<text x="705.2" y="272" font-size="12.5" fill="#ff2a2a" text-anchor="middle">2</text>
<text x="717.2" y="272" font-size="12.5" fill="#ff2a2a" text-anchor="middle">1</text>
<text x="728.2" y="272" font-size="12.5" fill="#ff2a2a" text-anchor="middle">1</text>
<text x="740.2" y="272" font-size="12.5" fill="#ff2a2a" text-anchor="middle">1</text>
<text x="751.2" y="272" font-size="12.5" fill="#ff2a2a" text-anchor="middle">1</text>
<text x="763.2" y="272" font-size="12.5" fill="#ff2a2a" text-anchor="middle">1</text>
<text x="775.2" y="272" font-size="12.5" fill="#ff2a2a" text-anchor="middle">2</text>
<text x="786.2" y="272" font-size="12.5" fill="#ff2a2a" text-anchor="middle">2</text>
<text x="798.2" y="272" font-size="12.5" fill="#ff2a2a" text-anchor="middle">2</text>
<text x="810.2" y="272" font-size="12.5" fill="#ff2a2a" text-anchor="middle">2</text>
<text x="821.2" y="272" font-size="12.5" fill="#ff2a2a" text-anchor="middle">1</text>
<text x="833.2" y="272" font-size="12.5" fill="#ff2a2a" text-anchor="middle">1</text>
<text x="845.2" y="272" font-size="12.5" fill="#ff2a2a" text-anchor="middle">1</text>
<text x="856.2" y="272" font-size="12.5" fill="#ff2a2a" text-anchor="middle">1</text>
<text x="868.2" y="272" font-size="12.5" fill="#ff2a2a" text-anchor="middle">1</text>
<text x="879.2" y="272" font-size="12.5" fill="#ff2a2a" text-anchor="middle">1</text>
<text x="891.2" y="272" font-size="12.5" fill="#ff2a2a" text-anchor="middle">1</text>
<text x="903.2" y="272" font-size="12.5" fill="#ff2a2a" text-anchor="middle">2</text>
<text x="914.2" y="272" font-size="12.5" fill="#ff2a2a" text-anchor="middle">2</text>
<text x="926.2" y="272" font-size="12.5" fill="#ff2a2a" text-anchor="middle">1</text>
<text x="938.2" y="272" font-size="12.5" fill="#ff2a2a" text-anchor="middle">1</text>
<text x="949.2" y="272" font-size="12.5" fill="#ff2a2a" text-anchor="middle">1</text>
<text x="961.2" y="272" font-size="12.5" fill="#ff2a2a" text-anchor="middle">1</text>
<text x="973.2" y="272" font-size="12.5" fill="#ffff00" text-anchor="middle">3</text>
<text x="984.2" y="272" font-size="12.5" fill="#ff2a2a" text-anchor="middle">3</text>
<text x="996.2" y="272" font-size="12.5" fill="#ff2a2a" text-anchor="middle">2</text>
<text x="1007.2" y="272" font-size="12.5" fill="#ff2a2a" text-anchor="middle">2</text>
<text x="1019.2" y="272" font-size="12.5" fill="#ff2a2a" text-anchor="middle">1</text>
<rect x="650" y="292" width="11" height="96" fill="#ffff00"/>
<rect x="965" y="292" width="11" height="96" fill="#ffff00"/>
<rect x="1.5" y="292.5" width="6" height="23" fill="none" stroke="#6e6e6e"/>
<rect x="12" y="292" width="7" height="24" fill="#ff0000"/>
<rect x="24" y="292" width="7" height="24" fill="#ff0000"/>
<rect x="36.5" y="292.5" width="6" height="23" fill="none" stroke="#6e6e6e"/>
<rect x="47.5" y="292.5" width="6" height="23" fill="none" stroke="#6e6e6e"/>
<rect x="59.5" y="292.5" width="6" height="23" fill="none" stroke="#6e6e6e"/>
<rect x="71.5" y="292.5" width="6" height="23" fill="none" stroke="#6e6e6e"/>
<rect x="82.5" y="292.5" width="6" height="23" fill="none" stroke="#6e6e6e"/>
<rect x="94.5" y="292.5" width="6" height="23" fill="none" stroke="#6e6e6e"/>
<rect x="106" y="292" width="7" height="24" fill="#ff0000"/>
<rect x="117.5" y="292.5" width="6" height="23" fill="none" stroke="#6e6e6e"/>
<rect x="129.5" y="292.5" width="6" height="23" fill="none" stroke="#6e6e6e"/>
<rect x="140" y="292" width="7" height="24" fill="#ff0000"/>
<rect x="152" y="292" width="7" height="24" fill="#ff0000"/>
<rect x="164" y="292" width="7" height="24" fill="#ff0000"/>
<rect x="175" y="292" width="7" height="24" fill="#ff0000"/>
<rect x="187.5" y="292.5" width="6" height="23" fill="none" stroke="#6e6e6e"/>
<rect x="199.5" y="292.5" width="6" height="23" fill="none" stroke="#6e6e6e"/>
<rect x="210.5" y="292.5" width="6" height="23" fill="none" stroke="#6e6e6e"/>
<rect x="222.5" y="292.5" width="6" height="23" fill="none" stroke="#6e6e6e"/>
<rect x="234" y="292" width="7" height="24" fill="#ff0000"/>
<rect x="245" y="292" width="7" height="24" fill="#ff0000"/>
<rect x="257" y="292" width="7" height="24" fill="#ff0000"/>
<rect x="268" y="292" width="7" height="24" fill="#ff0000"/>
<rect x="280" y="292" width="7" height="24" fill="#ff0000"/>
<rect x="292" y="292" width="7" height="24" fill="#ff0000"/>
<rect x="303" y="292" width="7" height="24" fill="#ff0000"/>
<rect x="315" y="292" width="7" height="24" fill="#ff0000"/>
<rect x="327.5" y="292.5" width="6" height="23" fill="none" stroke="#6e6e6e"/>
<rect x="338.5" y="292.5" width="6" height="23" fill="none" stroke="#6e6e6e"/>
<rect x="350.5" y="292.5" width="6" height="23" fill="none" stroke="#6e6e6e"/>
<rect x="362.5" y="292.5" width="6" height="23" fill="none" stroke="#6e6e6e"/>
<rect x="373.5" y="292.5" width="6" height="23" fill="none" stroke="#6e6e6e"/>
<rect x="385.5" y="292.5" width="6" height="23" fill="none" stroke="#6e6e6e"/>
<rect x="396.5" y="292.5" width="6" height="23" fill="none" stroke="#6e6e6e"/>
<rect x="408.5" y="292.5" width="6" height="23" fill="none" stroke="#6e6e6e"/>
<rect x="420.5" y="292.5" width="6" height="23" fill="none" stroke="#6e6e6e"/>
<rect x="431.5" y="292.5" width="6" height="23" fill="none" stroke="#6e6e6e"/>
<rect x="443.5" y="292.5" width="6" height="23" fill="none" stroke="#6e6e6e"/>
<rect x="455.5" y="292.5" width="6" height="23" fill="none" stroke="#6e6e6e"/>
<rect x="466" y="292" width="7" height="24" fill="#ff0000"/>
<rect x="478" y="292" width="7" height="24" fill="#ff0000"/>
<rect x="490" y="292" width="7" height="24" fill="#ff0000"/>
<rect x="501" y="292" width="7" height="24" fill="#ff0000"/>
<rect x="513" y="292" width="7" height="24" fill="#ff0000"/>
<rect x="524" y="292" width="7" height="24" fill="#ff0000"/>
<rect x="536.5" y="292.5" width="6" height="23" fill="none" stroke="#6e6e6e"/>
<rect x="548.5" y="292.5" width="6" height="23" fill="none" stroke="#6e6e6e"/>
<rect x="559.5" y="292.5" width="6" height="23" fill="none" stroke="#6e6e6e"/>
<rect x="571.5" y="292.5" width="6" height="23" fill="none" stroke="#6e6e6e"/>
<rect x="583.5" y="292.5" width="6" height="23" fill="none" stroke="#6e6e6e"/>
<rect x="594.5" y="292.5" width="6" height="23" fill="none" stroke="#6e6e6e"/>
<rect x="606.5" y="292.5" width="6" height="23" fill="none" stroke="#6e6e6e"/>
<rect x="618.5" y="292.5" width="6" height="23" fill="none" stroke="#6e6e6e"/>
<rect x="629.5" y="292.5" width="6" height="23" fill="none" stroke="#6e6e6e"/>
<rect x="641" y="292" width="7" height="24" fill="#ff0000"/>
<rect x="652" y="292" width="7" height="24" fill="#ff0000"/>
<rect x="664" y="292" width="7" height="24" fill="#ff0000"/>
<rect x="676" y="292" width="7" height="24" fill="#ff0000"/>
<rect x="687" y="292" width="7" height="24" fill="#ff0000"/>
<rect x="699" y="292" width="7" height="24" fill="#ff0000"/>
<rect x="711" y="292" width="7" height="24" fill="#ff0000"/>
<rect x="722" y="292" width="7" height="24" fill="#ff0000"/>
<rect x="734" y="292" width="7" height="24" fill="#ff0000"/>
<rect x="745" y="292" width="7" height="24" fill="#ff0000"/>
<rect x="757" y="292" width="7" height="24" fill="#ff0000"/>
<rect x="769" y="292" width="7" height="24" fill="#ff0000"/>
<rect x="780" y="292" width="7" height="24" fill="#ff0000"/>
<rect x="792" y="292" width="7" height="24" fill="#ff0000"/>
<rect x="804" y="292" width="7" height="24" fill="#ff0000"/>
<rect x="815" y="292" width="7" height="24" fill="#ff0000"/>
<rect x="827" y="292" width="7" height="24" fill="#ff0000"/>
<rect x="839" y="292" width="7" height="24" fill="#ff0000"/>
<rect x="850" y="292" width="7" height="24" fill="#ff0000"/>
<rect x="862" y="292" width="7" height="24" fill="#ff0000"/>
<rect x="873" y="292" width="7" height="24" fill="#ff0000"/>
<rect x="885" y="292" width="7" height="24" fill="#ff0000"/>
<rect x="897" y="292" width="7" height="24" fill="#ff0000"/>
<rect x="908" y="292" width="7" height="24" fill="#ff0000"/>
<rect x="920" y="292" width="7" height="24" fill="#ff0000"/>
<rect x="932" y="292" width="7" height="24" fill="#ff0000"/>
<rect x="943" y="292" width="7" height="24" fill="#ff0000"/>
<rect x="955" y="292" width="7" height="24" fill="#ff0000"/>
<rect x="967" y="292" width="7" height="24" fill="#ff0000"/>
<rect x="978" y="292" width="7" height="24" fill="#ff0000"/>
<rect x="990" y="292" width="7" height="24" fill="#ff0000"/>
<rect x="1001" y="292" width="7" height="24" fill="#ff0000"/>
<rect x="1013" y="292" width="7" height="24" fill="#ff0000"/>
<rect x="1025.5" y="292.5" width="6" height="23" fill="none" stroke="#6e6e6e"/>
<rect x="1036.5" y="292.5" width="6" height="23" fill="none" stroke="#6e6e6e"/>
<rect x="1.5" y="327.5" width="6" height="24" fill="none" stroke="#6e6e6e"/>
<rect x="12.5" y="327.5" width="6" height="24" fill="none" stroke="#6e6e6e"/>
<rect x="24.5" y="327.5" width="6" height="24" fill="none" stroke="#6e6e6e"/>
<rect x="36.5" y="327.5" width="6" height="24" fill="none" stroke="#6e6e6e"/>
<rect x="47.5" y="327.5" width="6" height="24" fill="none" stroke="#6e6e6e"/>
<rect x="59.5" y="327.5" width="6" height="24" fill="none" stroke="#6e6e6e"/>
<rect x="71.5" y="327.5" width="6" height="24" fill="none" stroke="#6e6e6e"/>
<rect x="82.5" y="327.5" width="6" height="24" fill="none" stroke="#6e6e6e"/>
<rect x="94.5" y="327.5" width="6" height="24" fill="none" stroke="#6e6e6e"/>
<rect x="106.5" y="327.5" width="6" height="24" fill="none" stroke="#6e6e6e"/>
<rect x="117.5" y="327.5" width="6" height="24" fill="none" stroke="#6e6e6e"/>
<rect x="129.5" y="327.5" width="6" height="24" fill="none" stroke="#6e6e6e"/>
<rect x="140.5" y="327.5" width="6" height="24" fill="none" stroke="#6e6e6e"/>
<rect x="152" y="327" width="7" height="25" fill="#cc3300"/>
<rect x="164" y="327" width="7" height="25" fill="#cc3300"/>
<rect x="175.5" y="327.5" width="6" height="24" fill="none" stroke="#6e6e6e"/>
<rect x="187.5" y="327.5" width="6" height="24" fill="none" stroke="#6e6e6e"/>
<rect x="199.5" y="327.5" width="6" height="24" fill="none" stroke="#6e6e6e"/>
<rect x="210" y="327" width="7" height="25" fill="#cc3300"/>
<rect x="222.5" y="327.5" width="6" height="24" fill="none" stroke="#6e6e6e"/>
<rect x="234" y="327" width="7" height="25" fill="#cc3300"/>
<rect x="245" y="327" width="7" height="25" fill="#cc3300"/>
<rect x="257" y="327" width="7" height="25" fill="#cc3300"/>
<rect x="268" y="327" width="7" height="25" fill="#cc3300"/>
<rect x="280.5" y="327.5" width="6" height="24" fill="none" stroke="#6e6e6e"/>
<rect x="292.5" y="327.5" width="6" height="24" fill="none" stroke="#6e6e6e"/>
<rect x="303.5" y="327.5" width="6" height="24" fill="none" stroke="#6e6e6e"/>
<rect x="315.5" y="327.5" width="6" height="24" fill="none" stroke="#6e6e6e"/>
<rect x="327.5" y="327.5" width="6" height="24" fill="none" stroke="#6e6e6e"/>
<rect x="338.5" y="327.5" width="6" height="24" fill="none" stroke="#6e6e6e"/>
<rect x="350.5" y="327.5" width="6" height="24" fill="none" stroke="#6e6e6e"/>
<rect x="362.5" y="327.5" width="6" height="24" fill="none" stroke="#6e6e6e"/>
<rect x="373.5" y="327.5" width="6" height="24" fill="none" stroke="#6e6e6e"/>
<rect x="385.5" y="327.5" width="6" height="24" fill="none" stroke="#6e6e6e"/>
<rect x="396.5" y="327.5" width="6" height="24" fill="none" stroke="#6e6e6e"/>
<rect x="408.5" y="327.5" width="6" height="24" fill="none" stroke="#6e6e6e"/>
<rect x="420.5" y="327.5" width="6" height="24" fill="none" stroke="#6e6e6e"/>
<rect x="431.5" y="327.5" width="6" height="24" fill="none" stroke="#6e6e6e"/>
<rect x="443.5" y="327.5" width="6" height="24" fill="none" stroke="#6e6e6e"/>
<rect x="455.5" y="327.5" width="6" height="24" fill="none" stroke="#6e6e6e"/>
<rect x="466.5" y="327.5" width="6" height="24" fill="none" stroke="#6e6e6e"/>
<rect x="478.5" y="327.5" width="6" height="24" fill="none" stroke="#6e6e6e"/>
<rect x="490" y="327" width="7" height="25" fill="#cc3300"/>
<rect x="501" y="327" width="7" height="25" fill="#cc3300"/>
<rect x="513" y="327" width="7" height="25" fill="#cc3300"/>
<rect x="524.5" y="327.5" width="6" height="24" fill="none" stroke="#6e6e6e"/>
<rect x="536.5" y="327.5" width="6" height="24" fill="none" stroke="#6e6e6e"/>
<rect x="548.5" y="327.5" width="6" height="24" fill="none" stroke="#6e6e6e"/>
<rect x="559.5" y="327.5" width="6" height="24" fill="none" stroke="#6e6e6e"/>
<rect x="571.5" y="327.5" width="6" height="24" fill="none" stroke="#6e6e6e"/>
<rect x="583.5" y="327.5" width="6" height="24" fill="none" stroke="#6e6e6e"/>
<rect x="594.5" y="327.5" width="6" height="24" fill="none" stroke="#6e6e6e"/>
<rect x="606.5" y="327.5" width="6" height="24" fill="none" stroke="#6e6e6e"/>
<rect x="618.5" y="327.5" width="6" height="24" fill="none" stroke="#6e6e6e"/>
<rect x="629.5" y="327.5" width="6" height="24" fill="none" stroke="#6e6e6e"/>
<rect x="641.5" y="327.5" width="6" height="24" fill="none" stroke="#6e6e6e"/>
<rect x="652" y="327" width="7" height="25" fill="#cc3300"/>
<rect x="664" y="327" width="7" height="25" fill="#cc3300"/>
<rect x="676.5" y="327.5" width="6" height="24" fill="none" stroke="#6e6e6e"/>
<rect x="687.5" y="327.5" width="6" height="24" fill="none" stroke="#6e6e6e"/>
<rect x="699" y="327" width="7" height="25" fill="#cc3300"/>
<rect x="711.5" y="327.5" width="6" height="24" fill="none" stroke="#6e6e6e"/>
<rect x="722.5" y="327.5" width="6" height="24" fill="none" stroke="#6e6e6e"/>
<rect x="734.5" y="327.5" width="6" height="24" fill="none" stroke="#6e6e6e"/>
<rect x="745.5" y="327.5" width="6" height="24" fill="none" stroke="#6e6e6e"/>
<rect x="757.5" y="327.5" width="6" height="24" fill="none" stroke="#6e6e6e"/>
<rect x="769" y="327" width="7" height="25" fill="#cc3300"/>
<rect x="780" y="327" width="7" height="25" fill="#cc3300"/>
<rect x="792" y="327" width="7" height="25" fill="#cc3300"/>
<rect x="804" y="327" width="7" height="25" fill="#cc3300"/>
<rect x="815.5" y="327.5" width="6" height="24" fill="none" stroke="#6e6e6e"/>
<rect x="827.5" y="327.5" width="6" height="24" fill="none" stroke="#6e6e6e"/>
<rect x="839.5" y="327.5" width="6" height="24" fill="none" stroke="#6e6e6e"/>
<rect x="850.5" y="327.5" width="6" height="24" fill="none" stroke="#6e6e6e"/>
<rect x="862.5" y="327.5" width="6" height="24" fill="none" stroke="#6e6e6e"/>
<rect x="873.5" y="327.5" width="6" height="24" fill="none" stroke="#6e6e6e"/>
<rect x="885.5" y="327.5" width="6" height="24" fill="none" stroke="#6e6e6e"/>
<rect x="897" y="327" width="7" height="25" fill="#cc3300"/>
<rect x="908.5" y="327.5" width="6" height="24" fill="none" stroke="#6e6e6e"/>
<rect x="920.5" y="327.5" width="6" height="24" fill="none" stroke="#6e6e6e"/>
<rect x="932.5" y="327.5" width="6" height="24" fill="none" stroke="#6e6e6e"/>
<rect x="943.5" y="327.5" width="6" height="24" fill="none" stroke="#6e6e6e"/>
<rect x="955.5" y="327.5" width="6" height="24" fill="none" stroke="#6e6e6e"/>
<rect x="967" y="327" width="7" height="25" fill="#cc3300"/>
<rect x="978" y="327" width="7" height="25" fill="#cc3300"/>
<rect x="990.5" y="327.5" width="6" height="24" fill="none" stroke="#6e6e6e"/>
<rect x="1001.5" y="327.5" width="6" height="24" fill="none" stroke="#6e6e6e"/>
<rect x="1013.5" y="327.5" width="6" height="24" fill="none" stroke="#6e6e6e"/>
<rect x="1025.5" y="327.5" width="6" height="24" fill="none" stroke="#6e6e6e"/>
<rect x="1036.5" y="327.5" width="6" height="24" fill="none" stroke="#6e6e6e"/>
<rect x="1.5" y="363.5" width="6" height="24" fill="none" stroke="#6e6e6e"/>
<rect x="12" y="363" width="7" height="25" fill="#ff9900"/>
<rect x="24" y="363" width="7" height="25" fill="#ff9900"/>
<rect x="36.5" y="363.5" width="6" height="24" fill="none" stroke="#6e6e6e"/>
<rect x="47" y="363" width="7" height="25" fill="#ff9900"/>
<rect x="59" y="363" width="7" height="25" fill="#ff9900"/>
<rect x="71" y="363" width="7" height="25" fill="#ff9900"/>
<rect x="82.5" y="363.5" width="6" height="24" fill="none" stroke="#6e6e6e"/>
<rect x="94.5" y="363.5" width="6" height="24" fill="none" stroke="#6e6e6e"/>
<rect x="106.5" y="363.5" width="6" height="24" fill="none" stroke="#6e6e6e"/>
<rect x="117.5" y="363.5" width="6" height="24" fill="none" stroke="#6e6e6e"/>
<rect x="129.5" y="363.5" width="6" height="24" fill="none" stroke="#6e6e6e"/>
<rect x="140.5" y="363.5" width="6" height="24" fill="none" stroke="#6e6e6e"/>
<rect x="152.5" y="363.5" width="6" height="24" fill="none" stroke="#6e6e6e"/>
<rect x="164.5" y="363.5" width="6" height="24" fill="none" stroke="#6e6e6e"/>
<rect x="175.5" y="363.5" width="6" height="24" fill="none" stroke="#6e6e6e"/>
<rect x="187.5" y="363.5" width="6" height="24" fill="none" stroke="#6e6e6e"/>
<rect x="199.5" y="363.5" width="6" height="24" fill="none" stroke="#6e6e6e"/>
<rect x="210.5" y="363.5" width="6" height="24" fill="none" stroke="#6e6e6e"/>
<rect x="222.5" y="363.5" width="6" height="24" fill="none" stroke="#6e6e6e"/>
<rect x="234.5" y="363.5" width="6" height="24" fill="none" stroke="#6e6e6e"/>
<rect x="245.5" y="363.5" width="6" height="24" fill="none" stroke="#6e6e6e"/>
<rect x="257.5" y="363.5" width="6" height="24" fill="none" stroke="#6e6e6e"/>
<rect x="268.5" y="363.5" width="6" height="24" fill="none" stroke="#6e6e6e"/>
<rect x="280.5" y="363.5" width="6" height="24" fill="none" stroke="#6e6e6e"/>
<rect x="292.5" y="363.5" width="6" height="24" fill="none" stroke="#6e6e6e"/>
<rect x="303.5" y="363.5" width="6" height="24" fill="none" stroke="#6e6e6e"/>
<rect x="315.5" y="363.5" width="6" height="24" fill="none" stroke="#6e6e6e"/>
<rect x="327.5" y="363.5" width="6" height="24" fill="none" stroke="#6e6e6e"/>
<rect x="338.5" y="363.5" width="6" height="24" fill="none" stroke="#6e6e6e"/>
<rect x="350.5" y="363.5" width="6" height="24" fill="none" stroke="#6e6e6e"/>
<rect x="362.5" y="363.5" width="6" height="24" fill="none" stroke="#6e6e6e"/>
<rect x="373.5" y="363.5" width="6" height="24" fill="none" stroke="#6e6e6e"/>
<rect x="385.5" y="363.5" width="6" height="24" fill="none" stroke="#6e6e6e"/>
<rect x="396.5" y="363.5" width="6" height="24" fill="none" stroke="#6e6e6e"/>
<rect x="408.5" y="363.5" width="6" height="24" fill="none" stroke="#6e6e6e"/>
<rect x="420.5" y="363.5" width="6" height="24" fill="none" stroke="#6e6e6e"/>
<rect x="431.5" y="363.5" width="6" height="24" fill="none" stroke="#6e6e6e"/>
<rect x="443.5" y="363.5" width="6" height="24" fill="none" stroke="#6e6e6e"/>
<rect x="455.5" y="363.5" width="6" height="24" fill="none" stroke="#6e6e6e"/>
<rect x="466.5" y="363.5" width="6" height="24" fill="none" stroke="#6e6e6e"/>
<rect x="478.5" y="363.5" width="6" height="24" fill="none" stroke="#6e6e6e"/>
<rect x="490.5" y="363.5" width="6" height="24" fill="none" stroke="#6e6e6e"/>
<rect x="501" y="363" width="7" height="25" fill="#ff9900"/>
<rect x="513.5" y="363.5" width="6" height="24" fill="none" stroke="#6e6e6e"/>
<rect x="524.5" y="363.5" width="6" height="24" fill="none" stroke="#6e6e6e"/>
<rect x="536.5" y="363.5" width="6" height="24" fill="none" stroke="#6e6e6e"/>
<rect x="548.5" y="363.5" width="6" height="24" fill="none" stroke="#6e6e6e"/>
<rect x="559.5" y="363.5" width="6" height="24" fill="none" stroke="#6e6e6e"/>
<rect x="571.5" y="363.5" width="6" height="24" fill="none" stroke="#6e6e6e"/>
<rect x="583.5" y="363.5" width="6" height="24" fill="none" stroke="#6e6e6e"/>
<rect x="594.5" y="363.5" width="6" height="24" fill="none" stroke="#6e6e6e"/>
<rect x="606.5" y="363.5" width="6" height="24" fill="none" stroke="#6e6e6e"/>
<rect x="618.5" y="363.5" width="6" height="24" fill="none" stroke="#6e6e6e"/>
<rect x="629.5" y="363.5" width="6" height="24" fill="none" stroke="#6e6e6e"/>
<rect x="641.5" y="363.5" width="6" height="24" fill="none" stroke="#6e6e6e"/>
<rect x="652" y="363" width="7" height="25" fill="#ff9900"/>
<rect x="664.5" y="363.5" width="6" height="24" fill="none" stroke="#6e6e6e"/>
<rect x="676.5" y="363.5" width="6" height="24" fill="none" stroke="#6e6e6e"/>
<rect x="687.5" y="363.5" width="6" height="24" fill="none" stroke="#6e6e6e"/>
<rect x="699.5" y="363.5" width="6" height="24" fill="none" stroke="#6e6e6e"/>
<rect x="711.5" y="363.5" width="6" height="24" fill="none" stroke="#6e6e6e"/>
<rect x="722.5" y="363.5" width="6" height="24" fill="none" stroke="#6e6e6e"/>
<rect x="734.5" y="363.5" width="6" height="24" fill="none" stroke="#6e6e6e"/>
<rect x="745.5" y="363.5" width="6" height="24" fill="none" stroke="#6e6e6e"/>
<rect x="757.5" y="363.5" width="6" height="24" fill="none" stroke="#6e6e6e"/>
<rect x="769.5" y="363.5" width="6" height="24" fill="none" stroke="#6e6e6e"/>
<rect x="780.5" y="363.5" width="6" height="24" fill="none" stroke="#6e6e6e"/>
<rect x="792.5" y="363.5" width="6" height="24" fill="none" stroke="#6e6e6e"/>
<rect x="804.5" y="363.5" width="6" height="24" fill="none" stroke="#6e6e6e"/>
<rect x="815.5" y="363.5" width="6" height="24" fill="none" stroke="#6e6e6e"/>
<rect x="827.5" y="363.5" width="6" height="24" fill="none" stroke="#6e6e6e"/>
<rect x="839.5" y="363.5" width="6" height="24" fill="none" stroke="#6e6e6e"/>
<rect x="850.5" y="363.5" width="6" height="24" fill="none" stroke="#6e6e6e"/>
<rect x="862.5" y="363.5" width="6" height="24" fill="none" stroke="#6e6e6e"/>
<rect x="873.5" y="363.5" width="6" height="24" fill="none" stroke="#6e6e6e"/>
<rect x="885.5" y="363.5" width="6" height="24" fill="none" stroke="#6e6e6e"/>
<rect x="897.5" y="363.5" width="6" height="24" fill="none" stroke="#6e6e6e"/>
<rect x="908" y="363" width="7" height="25" fill="#ff9900"/>
<rect x="920.5" y="363.5" width="6" height="24" fill="none" stroke="#6e6e6e"/>
<rect x="932.5" y="363.5" width="6" height="24" fill="none" stroke="#6e6e6e"/>
<rect x="943.5" y="363.5" width="6" height="24" fill="none" stroke="#6e6e6e"/>
<rect x="955.5" y="363.5" width="6" height="24" fill="none" stroke="#6e6e6e"/>
<rect x="967" y="363" width="7" height="25" fill="#ff9900"/>
<rect x="978" y="363" width="7" height="25" fill="#ff9900"/>
<rect x="990" y="363" width="7" height="25" fill="#ff9900"/>
<rect x="1001" y="363" width="7" height="25" fill="#ff9900"/>
<rect x="1013.5" y="363.5" width="6" height="24" fill="none" stroke="#6e6e6e"/>
<rect x="1025.5" y="363.5" width="6" height="24" fill="none" stroke="#6e6e6e"/>
<rect x="1036.5" y="363.5" width="6" height="24" fill="none" stroke="#6e6e6e"/>
<use href="#bfly" x="648" y="389"/>
<use href="#bfly" x="962" y="389"/>
<use href="#bfly" x="976" y="389"/>
<text x="1063" y="308" font-size="12" fill="#ffffff">趋势</text>
<text x="1063" y="343" font-size="12" fill="#ffffff">强度</text>
<text x="1063" y="379" font-size="12" fill="#ffffff">活跃</text>
<rect x="1081" y="290" width="5" height="100" fill="#04040e"/><rect x="1081" y="290" width="1" height="100" fill="#404040"/>
<rect x="0" y="414" width="1086" height="1" fill="#404040"/>
<rect x="1082" y="415" width="4" height="1" fill="#404040"/>
<circle cx="7" cy="423" r="6" fill="#7a7a7a"/><path d="M4.2 421.8 L7 424.6 L9.8 421.8" fill="none" stroke="#0a0a0a" stroke-width="1"/>
<text y="428" fill="#e6e6e6"><tspan x="17" font-size="12">三步擒龙火线</tspan><tspan x="89" font-size="12.5">F</tspan><tspan x="96" font-size="12">：</tspan><tspan x="108" font-size="12.5">18.00</tspan></text>
<rect x="4" y="436" width="1035" height="1" fill="#f4f4f4"/>
<line x1="0" y1="460.5" x2="1077" y2="460.5" stroke="#3c3c3c" stroke-width="1" stroke-dasharray="1 3"/>
<line x1="0" y1="500.5" x2="1077" y2="500.5" stroke="#3c3c3c" stroke-width="1" stroke-dasharray="1 3"/>
<line x1="0" y1="541.5" x2="1077" y2="541.5" stroke="#3c3c3c" stroke-width="1" stroke-dasharray="1 3"/>
<rect x="1082" y="460" width="4" height="1" fill="#404040"/>
<rect x="1082" y="480" width="4" height="1" fill="#404040"/>
<rect x="1082" y="500" width="4" height="1" fill="#404040"/>
<rect x="1082" y="521" width="4" height="1" fill="#404040"/>
<rect x="1082" y="541" width="4" height="1" fill="#404040"/>
<rect x="1082" y="562" width="4" height="1" fill="#404040"/>
<text x="15.5" y="460.5" font-size="12.5" fill="#ececec" text-anchor="middle">1</text>
<text x="27.5" y="460.5" font-size="12.5" fill="#ececec" text-anchor="middle">1</text>
<text x="109.5" y="460.5" font-size="12.5" fill="#ececec" text-anchor="middle">1</text>
<text x="132.5" y="460.5" font-size="12.5" fill="#ececec" text-anchor="middle">1</text>
<text x="143.5" y="460.5" font-size="12.5" fill="#ececec" text-anchor="middle">2</text>
<text x="155.5" y="460.5" font-size="12.5" fill="#ececec" text-anchor="middle">2</text>
<text x="167.5" y="460.5" font-size="12.5" fill="#ececec" text-anchor="middle">2</text>
<text x="178.5" y="460.5" font-size="12.5" fill="#ececec" text-anchor="middle">1</text>
<text x="202.5" y="460.5" font-size="12.5" fill="#ececec" text-anchor="middle">1</text>
<text x="213.5" y="460.5" font-size="12.5" fill="#ececec" text-anchor="middle">2</text>
<text x="225.5" y="460.5" font-size="12.5" fill="#ececec" text-anchor="middle">1</text>
<text x="237.5" y="460.5" font-size="12.5" fill="#ececec" text-anchor="middle">2</text>
<text x="248.5" y="460.5" font-size="12.5" fill="#ececec" text-anchor="middle">2</text>
<text x="260.5" y="460.5" font-size="12.5" fill="#ececec" text-anchor="middle">2</text>
<text x="271.5" y="460.5" font-size="12.5" fill="#ececec" text-anchor="middle">2</text>
<text x="283.5" y="460.5" font-size="12.5" fill="#ececec" text-anchor="middle">1</text>
<text x="295.5" y="460.5" font-size="12.5" fill="#ececec" text-anchor="middle">1</text>
<text x="493.5" y="460.5" font-size="12.5" fill="#ececec" text-anchor="middle">2</text>
<circle cx="504.5" cy="456" r="5" fill="#ffe000"/>
<text x="504.5" y="460" font-size="10.5" font-weight="bold" fill="#2020ff" text-anchor="middle">3</text>
<text x="516.5" y="460.5" font-size="12.5" fill="#ececec" text-anchor="middle">2</text>
<text x="655.5" y="460.5" font-size="12.5" fill="#ececec" text-anchor="middle">2</text>
<text x="667.5" y="460.5" font-size="12.5" fill="#ececec" text-anchor="middle">2</text>
<text x="679.5" y="460.5" font-size="12.5" fill="#ececec" text-anchor="middle">2</text>
<text x="690.5" y="460.5" font-size="12.5" fill="#ececec" text-anchor="middle">2</text>
<text x="702.5" y="460.5" font-size="12.5" fill="#ececec" text-anchor="middle">2</text>
<text x="714.5" y="460.5" font-size="12.5" fill="#ececec" text-anchor="middle">1</text>
<text x="725.5" y="460.5" font-size="12.5" fill="#ececec" text-anchor="middle">1</text>
<text x="737.5" y="460.5" font-size="12.5" fill="#ececec" text-anchor="middle">1</text>
<text x="748.5" y="460.5" font-size="12.5" fill="#ececec" text-anchor="middle">1</text>
<text x="760.5" y="460.5" font-size="12.5" fill="#ececec" text-anchor="middle">1</text>
<text x="772.5" y="460.5" font-size="12.5" fill="#ececec" text-anchor="middle">2</text>
<text x="783.5" y="460.5" font-size="12.5" fill="#ececec" text-anchor="middle">2</text>
<circle cx="795.5" cy="456" r="5" fill="#ffe000"/>
<text x="795.5" y="460" font-size="10.5" font-weight="bold" fill="#2020ff" text-anchor="middle">3</text>
<text x="807.5" y="460.5" font-size="12.5" fill="#ececec" text-anchor="middle">2</text>
<text x="818.5" y="460.5" font-size="12.5" fill="#ececec" text-anchor="middle">1</text>
<text x="830.5" y="460.5" font-size="12.5" fill="#ececec" text-anchor="middle">1</text>
<text x="842.5" y="460.5" font-size="12.5" fill="#ececec" text-anchor="middle">1</text>
<text x="853.5" y="460.5" font-size="12.5" fill="#ececec" text-anchor="middle">1</text>
<text x="865.5" y="460.5" font-size="12.5" fill="#ececec" text-anchor="middle">1</text>
<text x="876.5" y="460.5" font-size="12.5" fill="#ececec" text-anchor="middle">1</text>
<text x="888.5" y="460.5" font-size="12.5" fill="#ececec" text-anchor="middle">1</text>
<text x="900.5" y="460.5" font-size="12.5" fill="#ececec" text-anchor="middle">2</text>
<circle cx="911.5" cy="456" r="5" fill="#ffe000"/>
<text x="911.5" y="460" font-size="10.5" font-weight="bold" fill="#2020ff" text-anchor="middle">3</text>
<text x="923.5" y="460.5" font-size="12.5" fill="#ececec" text-anchor="middle">2</text>
<circle cx="935.5" cy="456" r="5" fill="#ffe000"/>
<text x="935.5" y="460" font-size="10.5" font-weight="bold" fill="#2020ff" text-anchor="middle">3</text>
<text x="946.5" y="460.5" font-size="12.5" fill="#ececec" text-anchor="middle">1</text>
<text x="958.5" y="460.5" font-size="12.5" fill="#ececec" text-anchor="middle">1</text>
<circle cx="970.5" cy="456" r="5" fill="#ffe000"/>
<text x="970.5" y="460" font-size="10.5" font-weight="bold" fill="#2020ff" text-anchor="middle">3</text>
<circle cx="981.5" cy="456" r="5" fill="#ffe000"/>
<text x="981.5" y="460" font-size="10.5" font-weight="bold" fill="#2020ff" text-anchor="middle">3</text>
<circle cx="993.5" cy="456" r="5" fill="#ffe000"/>
<text x="993.5" y="460" font-size="10.5" font-weight="bold" fill="#2020ff" text-anchor="middle">3</text>
<circle cx="1004.5" cy="456" r="5" fill="#ffe000"/>
<text x="1004.5" y="460" font-size="10.5" font-weight="bold" fill="#2020ff" text-anchor="middle">3</text>
<text x="1016.5" y="460.5" font-size="12.5" fill="#ececec" text-anchor="middle">2</text>
<text x="1028.5" y="460.5" font-size="12.5" fill="#ececec" text-anchor="middle">2</text>
<text x="1039.5" y="460.5" font-size="12.5" fill="#ececec" text-anchor="middle">1</text>
<rect x="3" y="476" width="3" height="34" fill="#808080"/>
<rect x="14" y="476" width="3" height="34" fill="#808080"/>
<rect x="26" y="476" width="3" height="34" fill="#808080"/>
<rect x="61" y="476" width="3" height="34" fill="#808080"/>
<rect x="73" y="476" width="3" height="34" fill="#808080"/>
<rect x="84" y="476" width="3" height="34" fill="#808080"/>
<rect x="96" y="476" width="3" height="34" fill="#808080"/>
<rect x="108" y="476" width="3" height="34" fill="#808080"/>
<rect x="119" y="476" width="3" height="34" fill="#808080"/>
<rect x="131" y="476" width="3" height="34" fill="#808080"/>
<rect x="142" y="476" width="3" height="34" fill="#808080"/>
<rect x="154" y="476" width="3" height="34" fill="#808080"/>
<rect x="166" y="476" width="3" height="34" fill="#808080"/>
<rect x="201" y="476" width="3" height="34" fill="#808080"/>
<rect x="212" y="476" width="3" height="34" fill="#808080"/>
<rect x="224" y="476" width="3" height="34" fill="#808080"/>
<rect x="236" y="476" width="3" height="34" fill="#808080"/>
<rect x="247" y="476" width="3" height="34" fill="#808080"/>
<rect x="259" y="476" width="3" height="34" fill="#808080"/>
<rect x="270" y="476" width="3" height="34" fill="#808080"/>
<rect x="282" y="476" width="3" height="34" fill="#808080"/>
<rect x="294" y="476" width="3" height="34" fill="#808080"/>
<rect x="305" y="476" width="3" height="34" fill="#808080"/>
<rect x="317" y="476" width="3" height="34" fill="#808080"/>
<rect x="329" y="476" width="3" height="34" fill="#808080"/>
<rect x="340" y="476" width="3" height="34" fill="#808080"/>
<rect x="352" y="476" width="3" height="34" fill="#808080"/>
<rect x="364" y="476" width="3" height="34" fill="#808080"/>
<rect x="375" y="476" width="3" height="34" fill="#808080"/>
<rect x="445" y="476" width="3" height="34" fill="#808080"/>
<rect x="457" y="476" width="3" height="34" fill="#808080"/>
<rect x="468" y="476" width="3" height="34" fill="#808080"/>
<rect x="480" y="476" width="3" height="34" fill="#808080"/>
<rect x="492" y="476" width="3" height="34" fill="#808080"/>
<rect x="503" y="476" width="3" height="34" fill="#808080"/>
<rect x="515" y="476" width="3" height="34" fill="#808080"/>
<rect x="526" y="476" width="3" height="34" fill="#808080"/>
<rect x="631" y="476" width="3" height="34" fill="#808080"/>
<rect x="643" y="476" width="3" height="34" fill="#808080"/>
<rect x="654" y="476" width="3" height="34" fill="#808080"/>
<rect x="666" y="476" width="3" height="34" fill="#808080"/>
<rect x="678" y="476" width="3" height="34" fill="#808080"/>
<rect x="689" y="476" width="3" height="34" fill="#808080"/>
<rect x="701" y="476" width="3" height="34" fill="#808080"/>
<rect x="713" y="476" width="3" height="34" fill="#808080"/>
<rect x="724" y="476" width="3" height="34" fill="#808080"/>
<rect x="736" y="476" width="3" height="34" fill="#808080"/>
<rect x="747" y="476" width="3" height="34" fill="#808080"/>
<rect x="759" y="476" width="3" height="34" fill="#808080"/>
<rect x="771" y="476" width="3" height="34" fill="#808080"/>
<rect x="782" y="476" width="3" height="34" fill="#808080"/>
<rect x="794" y="476" width="3" height="34" fill="#808080"/>
<rect x="806" y="476" width="3" height="34" fill="#808080"/>
<rect x="817" y="476" width="3" height="34" fill="#808080"/>
<rect x="829" y="476" width="3" height="34" fill="#808080"/>
<rect x="841" y="476" width="3" height="34" fill="#808080"/>
<rect x="852" y="476" width="3" height="34" fill="#808080"/>
<rect x="864" y="476" width="3" height="34" fill="#808080"/>
<rect x="875" y="476" width="3" height="34" fill="#808080"/>
<rect x="887" y="476" width="3" height="34" fill="#808080"/>
<rect x="899" y="476" width="3" height="34" fill="#808080"/>
<rect x="910" y="476" width="3" height="34" fill="#808080"/>
<rect x="922" y="476" width="3" height="34" fill="#808080"/>
<rect x="934" y="476" width="3" height="34" fill="#808080"/>
<rect x="945" y="476" width="3" height="34" fill="#808080"/>
<rect x="957" y="476" width="3" height="34" fill="#808080"/>
<rect x="969" y="476" width="3" height="34" fill="#808080"/>
<rect x="980" y="476" width="3" height="34" fill="#808080"/>
<rect x="992" y="476" width="3" height="34" fill="#808080"/>
<rect x="1003" y="476" width="3" height="34" fill="#808080"/>
<rect x="1015" y="476" width="3" height="34" fill="#808080"/>
<rect x="1027" y="476" width="3" height="34" fill="#808080"/>
<rect x="1038" y="476" width="3" height="34" fill="#808080"/>
<rect x="1.5" y="468.5" width="6" height="16" fill="none" stroke="#6e6e6e"/>
<rect x="12.5" y="468.5" width="6" height="16" fill="none" stroke="#6e6e6e"/>
<rect x="24.5" y="468.5" width="6" height="16" fill="none" stroke="#6e6e6e"/>
<rect x="36.5" y="468.5" width="6" height="16" fill="none" stroke="#6e6e6e"/>
<rect x="47.5" y="468.5" width="6" height="16" fill="none" stroke="#6e6e6e"/>
<rect x="59.5" y="468.5" width="6" height="16" fill="none" stroke="#6e6e6e"/>
<rect x="71.5" y="468.5" width="6" height="16" fill="none" stroke="#6e6e6e"/>
<rect x="82.5" y="468.5" width="6" height="16" fill="none" stroke="#6e6e6e"/>
<rect x="94.5" y="468.5" width="6" height="16" fill="none" stroke="#6e6e6e"/>
<rect x="106" y="468" width="7" height="17" fill="#ff0000"/>
<rect x="117.5" y="468.5" width="6" height="16" fill="none" stroke="#6e6e6e"/>
<rect x="129.5" y="468.5" width="6" height="16" fill="none" stroke="#6e6e6e"/>
<rect x="140" y="468" width="7" height="17" fill="#ff0000"/>
<rect x="152" y="468" width="7" height="17" fill="#ff0000"/>
<rect x="164" y="468" width="7" height="17" fill="#ff0000"/>
<rect x="175" y="468" width="7" height="17" fill="#ff0000"/>
<rect x="187.5" y="468.5" width="6" height="16" fill="none" stroke="#6e6e6e"/>
<rect x="199" y="468" width="7" height="17" fill="#ff0000"/>
<rect x="210" y="468" width="7" height="17" fill="#ff0000"/>
<rect x="222" y="468" width="7" height="17" fill="#ff0000"/>
<rect x="234" y="468" width="7" height="17" fill="#ff0000"/>
<rect x="245" y="468" width="7" height="17" fill="#ff0000"/>
<rect x="257" y="468" width="7" height="17" fill="#ff0000"/>
<rect x="268" y="468" width="7" height="17" fill="#ff0000"/>
<rect x="280" y="468" width="7" height="17" fill="#ff0000"/>
<rect x="292" y="468" width="7" height="17" fill="#ff0000"/>
<rect x="303.5" y="468.5" width="6" height="16" fill="none" stroke="#6e6e6e"/>
<rect x="315.5" y="468.5" width="6" height="16" fill="none" stroke="#6e6e6e"/>
<rect x="327.5" y="468.5" width="6" height="16" fill="none" stroke="#6e6e6e"/>
<rect x="338.5" y="468.5" width="6" height="16" fill="none" stroke="#6e6e6e"/>
<rect x="350.5" y="468.5" width="6" height="16" fill="none" stroke="#6e6e6e"/>
<rect x="362.5" y="468.5" width="6" height="16" fill="none" stroke="#6e6e6e"/>
<rect x="373.5" y="468.5" width="6" height="16" fill="none" stroke="#6e6e6e"/>
<rect x="385.5" y="468.5" width="6" height="16" fill="none" stroke="#6e6e6e"/>
<rect x="396.5" y="468.5" width="6" height="16" fill="none" stroke="#6e6e6e"/>
<rect x="408.5" y="468.5" width="6" height="16" fill="none" stroke="#6e6e6e"/>
<rect x="420.5" y="468.5" width="6" height="16" fill="none" stroke="#6e6e6e"/>
<rect x="431.5" y="468.5" width="6" height="16" fill="none" stroke="#6e6e6e"/>
<rect x="443.5" y="468.5" width="6" height="16" fill="none" stroke="#6e6e6e"/>
<rect x="455.5" y="468.5" width="6" height="16" fill="none" stroke="#6e6e6e"/>
<rect x="466.5" y="468.5" width="6" height="16" fill="none" stroke="#6e6e6e"/>
<rect x="478.5" y="468.5" width="6" height="16" fill="none" stroke="#6e6e6e"/>
<rect x="490" y="468" width="7" height="17" fill="#ff0000"/>
<rect x="501" y="468" width="7" height="17" fill="#ff0000"/>
<rect x="513" y="468" width="7" height="17" fill="#ff0000"/>
<rect x="524" y="468" width="7" height="17" fill="#ff0000"/>
<rect x="536.5" y="468.5" width="6" height="16" fill="none" stroke="#6e6e6e"/>
<rect x="548.5" y="468.5" width="6" height="16" fill="none" stroke="#6e6e6e"/>
<rect x="559.5" y="468.5" width="6" height="16" fill="none" stroke="#6e6e6e"/>
<rect x="571.5" y="468.5" width="6" height="16" fill="none" stroke="#6e6e6e"/>
<rect x="583.5" y="468.5" width="6" height="16" fill="none" stroke="#6e6e6e"/>
<rect x="594.5" y="468.5" width="6" height="16" fill="none" stroke="#6e6e6e"/>
<rect x="606.5" y="468.5" width="6" height="16" fill="none" stroke="#6e6e6e"/>
<rect x="618.5" y="468.5" width="6" height="16" fill="none" stroke="#6e6e6e"/>
<rect x="629.5" y="468.5" width="6" height="16" fill="none" stroke="#6e6e6e"/>
<rect x="641.5" y="468.5" width="6" height="16" fill="none" stroke="#6e6e6e"/>
<rect x="652" y="468" width="7" height="17" fill="#ff0000"/>
<rect x="664" y="468" width="7" height="17" fill="#ff0000"/>
<rect x="676" y="468" width="7" height="17" fill="#ff0000"/>
<rect x="687" y="468" width="7" height="17" fill="#ff0000"/>
<rect x="699" y="468" width="7" height="17" fill="#ff0000"/>
<rect x="711" y="468" width="7" height="17" fill="#ff0000"/>
<rect x="722" y="468" width="7" height="17" fill="#ff0000"/>
<rect x="734" y="468" width="7" height="17" fill="#ff0000"/>
<rect x="745" y="468" width="7" height="17" fill="#ff0000"/>
<rect x="757" y="468" width="7" height="17" fill="#ff0000"/>
<rect x="769" y="468" width="7" height="17" fill="#ff0000"/>
<rect x="780" y="468" width="7" height="17" fill="#ff0000"/>
<rect x="792" y="468" width="7" height="17" fill="#ff0000"/>
<rect x="804" y="468" width="7" height="17" fill="#ff0000"/>
<rect x="815" y="468" width="7" height="17" fill="#ff0000"/>
<rect x="827" y="468" width="7" height="17" fill="#ff0000"/>
<rect x="839" y="468" width="7" height="17" fill="#ff0000"/>
<rect x="850" y="468" width="7" height="17" fill="#ff0000"/>
<rect x="862" y="468" width="7" height="17" fill="#ff0000"/>
<rect x="873" y="468" width="7" height="17" fill="#ff0000"/>
<rect x="885" y="468" width="7" height="17" fill="#ff0000"/>
<rect x="897" y="468" width="7" height="17" fill="#ff0000"/>
<rect x="908" y="468" width="7" height="17" fill="#ff0000"/>
<rect x="920" y="468" width="7" height="17" fill="#ff0000"/>
<rect x="932" y="468" width="7" height="17" fill="#ff0000"/>
<rect x="943" y="468" width="7" height="17" fill="#ff0000"/>
<rect x="955" y="468" width="7" height="17" fill="#ff0000"/>
<rect x="967" y="468" width="7" height="17" fill="#ff0000"/>
<rect x="978" y="468" width="7" height="17" fill="#ff0000"/>
<rect x="990" y="468" width="7" height="17" fill="#ff0000"/>
<rect x="1001" y="468" width="7" height="17" fill="#ff0000"/>
<rect x="1013" y="468" width="7" height="17" fill="#ff0000"/>
<rect x="1025" y="468" width="7" height="17" fill="#ff0000"/>
<rect x="1036" y="468" width="7" height="17" fill="#ff0000"/>
<rect x="1.5" y="500.5" width="6" height="17" fill="none" stroke="#6e6e6e"/>
<rect x="12.5" y="500.5" width="6" height="17" fill="none" stroke="#6e6e6e"/>
<rect x="24.5" y="500.5" width="6" height="17" fill="none" stroke="#6e6e6e"/>
<rect x="36.5" y="500.5" width="6" height="17" fill="none" stroke="#6e6e6e"/>
<rect x="47.5" y="500.5" width="6" height="17" fill="none" stroke="#6e6e6e"/>
<rect x="59.5" y="500.5" width="6" height="17" fill="none" stroke="#6e6e6e"/>
<rect x="71.5" y="500.5" width="6" height="17" fill="none" stroke="#6e6e6e"/>
<rect x="82.5" y="500.5" width="6" height="17" fill="none" stroke="#6e6e6e"/>
<rect x="94.5" y="500.5" width="6" height="17" fill="none" stroke="#6e6e6e"/>
<rect x="106.5" y="500.5" width="6" height="17" fill="none" stroke="#6e6e6e"/>
<rect x="117.5" y="500.5" width="6" height="17" fill="none" stroke="#6e6e6e"/>
<rect x="129" y="500" width="7" height="18" fill="#ff8080"/>
<rect x="140" y="500" width="7" height="18" fill="#ff8080"/>
<rect x="152" y="500" width="7" height="18" fill="#ff8080"/>
<rect x="164" y="500" width="7" height="18" fill="#ff8080"/>
<rect x="175.5" y="500.5" width="6" height="17" fill="none" stroke="#6e6e6e"/>
<rect x="187.5" y="500.5" width="6" height="17" fill="none" stroke="#6e6e6e"/>
<rect x="199.5" y="500.5" width="6" height="17" fill="none" stroke="#6e6e6e"/>
<rect x="210" y="500" width="7" height="18" fill="#ff8080"/>
<rect x="222.5" y="500.5" width="6" height="17" fill="none" stroke="#6e6e6e"/>
<rect x="234" y="500" width="7" height="18" fill="#ff8080"/>
<rect x="245" y="500" width="7" height="18" fill="#ff8080"/>
<rect x="257" y="500" width="7" height="18" fill="#ff8080"/>
<rect x="268" y="500" width="7" height="18" fill="#ff8080"/>
<rect x="280.5" y="500.5" width="6" height="17" fill="none" stroke="#6e6e6e"/>
<rect x="292.5" y="500.5" width="6" height="17" fill="none" stroke="#6e6e6e"/>
<rect x="303.5" y="500.5" width="6" height="17" fill="none" stroke="#6e6e6e"/>
<rect x="315.5" y="500.5" width="6" height="17" fill="none" stroke="#6e6e6e"/>
<rect x="327.5" y="500.5" width="6" height="17" fill="none" stroke="#6e6e6e"/>
<rect x="338.5" y="500.5" width="6" height="17" fill="none" stroke="#6e6e6e"/>
<rect x="350.5" y="500.5" width="6" height="17" fill="none" stroke="#6e6e6e"/>
<rect x="362.5" y="500.5" width="6" height="17" fill="none" stroke="#6e6e6e"/>
<rect x="373.5" y="500.5" width="6" height="17" fill="none" stroke="#6e6e6e"/>
<rect x="385.5" y="500.5" width="6" height="17" fill="none" stroke="#6e6e6e"/>
<rect x="396.5" y="500.5" width="6" height="17" fill="none" stroke="#6e6e6e"/>
<rect x="408.5" y="500.5" width="6" height="17" fill="none" stroke="#6e6e6e"/>
<rect x="420.5" y="500.5" width="6" height="17" fill="none" stroke="#6e6e6e"/>
<rect x="431.5" y="500.5" width="6" height="17" fill="none" stroke="#6e6e6e"/>
<rect x="443.5" y="500.5" width="6" height="17" fill="none" stroke="#6e6e6e"/>
<rect x="455.5" y="500.5" width="6" height="17" fill="none" stroke="#6e6e6e"/>
<rect x="466.5" y="500.5" width="6" height="17" fill="none" stroke="#6e6e6e"/>
<rect x="478.5" y="500.5" width="6" height="17" fill="none" stroke="#6e6e6e"/>
<rect x="490" y="500" width="7" height="18" fill="#ff8080"/>
<rect x="501" y="500" width="7" height="18" fill="#ff8080"/>
<rect x="513" y="500" width="7" height="18" fill="#ff8080"/>
<rect x="524.5" y="500.5" width="6" height="17" fill="none" stroke="#6e6e6e"/>
<rect x="536.5" y="500.5" width="6" height="17" fill="none" stroke="#6e6e6e"/>
<rect x="548.5" y="500.5" width="6" height="17" fill="none" stroke="#6e6e6e"/>
<rect x="559.5" y="500.5" width="6" height="17" fill="none" stroke="#6e6e6e"/>
<rect x="571.5" y="500.5" width="6" height="17" fill="none" stroke="#6e6e6e"/>
<rect x="583.5" y="500.5" width="6" height="17" fill="none" stroke="#6e6e6e"/>
<rect x="594.5" y="500.5" width="6" height="17" fill="none" stroke="#6e6e6e"/>
<rect x="606.5" y="500.5" width="6" height="17" fill="none" stroke="#6e6e6e"/>
<rect x="618.5" y="500.5" width="6" height="17" fill="none" stroke="#6e6e6e"/>
<rect x="629.5" y="500.5" width="6" height="17" fill="none" stroke="#6e6e6e"/>
<rect x="641.5" y="500.5" width="6" height="17" fill="none" stroke="#6e6e6e"/>
<rect x="652" y="500" width="7" height="18" fill="#ff8080"/>
<rect x="664" y="500" width="7" height="18" fill="#ff8080"/>
<rect x="676" y="500" width="7" height="18" fill="#ff8080"/>
<rect x="687" y="500" width="7" height="18" fill="#ff8080"/>
<rect x="699" y="500" width="7" height="18" fill="#ff8080"/>
<rect x="711.5" y="500.5" width="6" height="17" fill="none" stroke="#6e6e6e"/>
<rect x="722.5" y="500.5" width="6" height="17" fill="none" stroke="#6e6e6e"/>
<rect x="734.5" y="500.5" width="6" height="17" fill="none" stroke="#6e6e6e"/>
<rect x="745.5" y="500.5" width="6" height="17" fill="none" stroke="#6e6e6e"/>
<rect x="757.5" y="500.5" width="6" height="17" fill="none" stroke="#6e6e6e"/>
<rect x="769" y="500" width="7" height="18" fill="#ff8080"/>
<rect x="780" y="500" width="7" height="18" fill="#ff8080"/>
<rect x="792" y="500" width="7" height="18" fill="#ff8080"/>
<rect x="804" y="500" width="7" height="18" fill="#ff8080"/>
<rect x="815.5" y="500.5" width="6" height="17" fill="none" stroke="#6e6e6e"/>
<rect x="827.5" y="500.5" width="6" height="17" fill="none" stroke="#6e6e6e"/>
<rect x="839.5" y="500.5" width="6" height="17" fill="none" stroke="#6e6e6e"/>
<rect x="850.5" y="500.5" width="6" height="17" fill="none" stroke="#6e6e6e"/>
<rect x="862.5" y="500.5" width="6" height="17" fill="none" stroke="#6e6e6e"/>
<rect x="873.5" y="500.5" width="6" height="17" fill="none" stroke="#6e6e6e"/>
<rect x="885.5" y="500.5" width="6" height="17" fill="none" stroke="#6e6e6e"/>
<rect x="897" y="500" width="7" height="18" fill="#ff8080"/>
<rect x="908" y="500" width="7" height="18" fill="#ff8080"/>
<rect x="920.5" y="500.5" width="6" height="17" fill="none" stroke="#6e6e6e"/>
<rect x="932" y="500" width="7" height="18" fill="#ff8080"/>
<rect x="943.5" y="500.5" width="6" height="17" fill="none" stroke="#6e6e6e"/>
<rect x="955.5" y="500.5" width="6" height="17" fill="none" stroke="#6e6e6e"/>
<rect x="967" y="500" width="7" height="18" fill="#ff8080"/>
<rect x="978" y="500" width="7" height="18" fill="#ff8080"/>
<rect x="990" y="500" width="7" height="18" fill="#ff8080"/>
<rect x="1001" y="500" width="7" height="18" fill="#ff8080"/>
<rect x="1013.5" y="500.5" width="6" height="17" fill="none" stroke="#6e6e6e"/>
<rect x="1025.5" y="500.5" width="6" height="17" fill="none" stroke="#6e6e6e"/>
<rect x="1036.5" y="500.5" width="6" height="17" fill="none" stroke="#6e6e6e"/>
<rect x="1.5" y="533.5" width="6" height="16" fill="none" stroke="#6e6e6e"/>
<rect x="12" y="533" width="7" height="17" fill="#ff9900"/>
<rect x="24" y="533" width="7" height="17" fill="#ff9900"/>
<rect x="36.5" y="533.5" width="6" height="16" fill="none" stroke="#6e6e6e"/>
<rect x="47" y="533" width="7" height="17" fill="#ff9900"/>
<rect x="59" y="533" width="7" height="17" fill="#ff9900"/>
<rect x="71" y="533" width="7" height="17" fill="#ff9900"/>
<rect x="82.5" y="533.5" width="6" height="16" fill="none" stroke="#6e6e6e"/>
<rect x="94.5" y="533.5" width="6" height="16" fill="none" stroke="#6e6e6e"/>
<rect x="106.5" y="533.5" width="6" height="16" fill="none" stroke="#6e6e6e"/>
<rect x="117.5" y="533.5" width="6" height="16" fill="none" stroke="#6e6e6e"/>
<rect x="129.5" y="533.5" width="6" height="16" fill="none" stroke="#6e6e6e"/>
<rect x="140.5" y="533.5" width="6" height="16" fill="none" stroke="#6e6e6e"/>
<rect x="152.5" y="533.5" width="6" height="16" fill="none" stroke="#6e6e6e"/>
<rect x="164.5" y="533.5" width="6" height="16" fill="none" stroke="#6e6e6e"/>
<rect x="175.5" y="533.5" width="6" height="16" fill="none" stroke="#6e6e6e"/>
<rect x="187.5" y="533.5" width="6" height="16" fill="none" stroke="#6e6e6e"/>
<rect x="199.5" y="533.5" width="6" height="16" fill="none" stroke="#6e6e6e"/>
<rect x="210.5" y="533.5" width="6" height="16" fill="none" stroke="#6e6e6e"/>
<rect x="222.5" y="533.5" width="6" height="16" fill="none" stroke="#6e6e6e"/>
<rect x="234.5" y="533.5" width="6" height="16" fill="none" stroke="#6e6e6e"/>
<rect x="245.5" y="533.5" width="6" height="16" fill="none" stroke="#6e6e6e"/>
<rect x="257.5" y="533.5" width="6" height="16" fill="none" stroke="#6e6e6e"/>
<rect x="268.5" y="533.5" width="6" height="16" fill="none" stroke="#6e6e6e"/>
<rect x="280.5" y="533.5" width="6" height="16" fill="none" stroke="#6e6e6e"/>
<rect x="292.5" y="533.5" width="6" height="16" fill="none" stroke="#6e6e6e"/>
<rect x="303.5" y="533.5" width="6" height="16" fill="none" stroke="#6e6e6e"/>
<rect x="315.5" y="533.5" width="6" height="16" fill="none" stroke="#6e6e6e"/>
<rect x="327.5" y="533.5" width="6" height="16" fill="none" stroke="#6e6e6e"/>
<rect x="338.5" y="533.5" width="6" height="16" fill="none" stroke="#6e6e6e"/>
<rect x="350.5" y="533.5" width="6" height="16" fill="none" stroke="#6e6e6e"/>
<rect x="362.5" y="533.5" width="6" height="16" fill="none" stroke="#6e6e6e"/>
<rect x="373.5" y="533.5" width="6" height="16" fill="none" stroke="#6e6e6e"/>
<rect x="385.5" y="533.5" width="6" height="16" fill="none" stroke="#6e6e6e"/>
<rect x="396.5" y="533.5" width="6" height="16" fill="none" stroke="#6e6e6e"/>
<rect x="408.5" y="533.5" width="6" height="16" fill="none" stroke="#6e6e6e"/>
<rect x="420.5" y="533.5" width="6" height="16" fill="none" stroke="#6e6e6e"/>
<rect x="431.5" y="533.5" width="6" height="16" fill="none" stroke="#6e6e6e"/>
<rect x="443.5" y="533.5" width="6" height="16" fill="none" stroke="#6e6e6e"/>
<rect x="455.5" y="533.5" width="6" height="16" fill="none" stroke="#6e6e6e"/>
<rect x="466.5" y="533.5" width="6" height="16" fill="none" stroke="#6e6e6e"/>
<rect x="478.5" y="533.5" width="6" height="16" fill="none" stroke="#6e6e6e"/>
<rect x="490.5" y="533.5" width="6" height="16" fill="none" stroke="#6e6e6e"/>
<rect x="501" y="533" width="7" height="17" fill="#ff9900"/>
<rect x="513.5" y="533.5" width="6" height="16" fill="none" stroke="#6e6e6e"/>
<rect x="524.5" y="533.5" width="6" height="16" fill="none" stroke="#6e6e6e"/>
<rect x="536.5" y="533.5" width="6" height="16" fill="none" stroke="#6e6e6e"/>
<rect x="548.5" y="533.5" width="6" height="16" fill="none" stroke="#6e6e6e"/>
<rect x="559.5" y="533.5" width="6" height="16" fill="none" stroke="#6e6e6e"/>
<rect x="571.5" y="533.5" width="6" height="16" fill="none" stroke="#6e6e6e"/>
<rect x="583.5" y="533.5" width="6" height="16" fill="none" stroke="#6e6e6e"/>
<rect x="594.5" y="533.5" width="6" height="16" fill="none" stroke="#6e6e6e"/>
<rect x="606.5" y="533.5" width="6" height="16" fill="none" stroke="#6e6e6e"/>
<rect x="618.5" y="533.5" width="6" height="16" fill="none" stroke="#6e6e6e"/>
<rect x="629.5" y="533.5" width="6" height="16" fill="none" stroke="#6e6e6e"/>
<rect x="641.5" y="533.5" width="6" height="16" fill="none" stroke="#6e6e6e"/>
<rect x="652.5" y="533.5" width="6" height="16" fill="none" stroke="#6e6e6e"/>
<rect x="664.5" y="533.5" width="6" height="16" fill="none" stroke="#6e6e6e"/>
<rect x="676.5" y="533.5" width="6" height="16" fill="none" stroke="#6e6e6e"/>
<rect x="687.5" y="533.5" width="6" height="16" fill="none" stroke="#6e6e6e"/>
<rect x="699.5" y="533.5" width="6" height="16" fill="none" stroke="#6e6e6e"/>
<rect x="711.5" y="533.5" width="6" height="16" fill="none" stroke="#6e6e6e"/>
<rect x="722.5" y="533.5" width="6" height="16" fill="none" stroke="#6e6e6e"/>
<rect x="734.5" y="533.5" width="6" height="16" fill="none" stroke="#6e6e6e"/>
<rect x="745.5" y="533.5" width="6" height="16" fill="none" stroke="#6e6e6e"/>
<rect x="757.5" y="533.5" width="6" height="16" fill="none" stroke="#6e6e6e"/>
<rect x="769.5" y="533.5" width="6" height="16" fill="none" stroke="#6e6e6e"/>
<rect x="780.5" y="533.5" width="6" height="16" fill="none" stroke="#6e6e6e"/>
<rect x="792" y="533" width="7" height="17" fill="#ff9900"/>
<rect x="804.5" y="533.5" width="6" height="16" fill="none" stroke="#6e6e6e"/>
<rect x="815.5" y="533.5" width="6" height="16" fill="none" stroke="#6e6e6e"/>
<rect x="827.5" y="533.5" width="6" height="16" fill="none" stroke="#6e6e6e"/>
<rect x="839.5" y="533.5" width="6" height="16" fill="none" stroke="#6e6e6e"/>
<rect x="850.5" y="533.5" width="6" height="16" fill="none" stroke="#6e6e6e"/>
<rect x="862.5" y="533.5" width="6" height="16" fill="none" stroke="#6e6e6e"/>
<rect x="873.5" y="533.5" width="6" height="16" fill="none" stroke="#6e6e6e"/>
<rect x="885.5" y="533.5" width="6" height="16" fill="none" stroke="#6e6e6e"/>
<rect x="897.5" y="533.5" width="6" height="16" fill="none" stroke="#6e6e6e"/>
<rect x="908" y="533" width="7" height="17" fill="#ff9900"/>
<rect x="920" y="533" width="7" height="17" fill="#ff9900"/>
<rect x="932" y="533" width="7" height="17" fill="#ff9900"/>
<rect x="943.5" y="533.5" width="6" height="16" fill="none" stroke="#6e6e6e"/>
<rect x="955.5" y="533.5" width="6" height="16" fill="none" stroke="#6e6e6e"/>
<rect x="967" y="533" width="7" height="17" fill="#ff9900"/>
<rect x="978" y="533" width="7" height="17" fill="#ff9900"/>
<rect x="990" y="533" width="7" height="17" fill="#ff9900"/>
<rect x="1001" y="533" width="7" height="17" fill="#ff9900"/>
<rect x="1013" y="533" width="7" height="17" fill="#ff9900"/>
<rect x="1025" y="533" width="7" height="17" fill="#ff9900"/>
<rect x="1036.5" y="533.5" width="6" height="16" fill="none" stroke="#6e6e6e"/>
<rect x="1.5" y="565.5" width="6" height="16" fill="none" stroke="#6e6e6e"/>
<rect x="12.5" y="565.5" width="6" height="16" fill="none" stroke="#6e6e6e"/>
<rect x="24.5" y="565.5" width="6" height="16" fill="none" stroke="#6e6e6e"/>
<rect x="36.5" y="565.5" width="6" height="16" fill="none" stroke="#6e6e6e"/>
<rect x="47.5" y="565.5" width="6" height="16" fill="none" stroke="#6e6e6e"/>
<rect x="59.5" y="565.5" width="6" height="16" fill="none" stroke="#6e6e6e"/>
<rect x="71.5" y="565.5" width="6" height="16" fill="none" stroke="#6e6e6e"/>
<rect x="82.5" y="565.5" width="6" height="16" fill="none" stroke="#6e6e6e"/>
<rect x="94.5" y="565.5" width="6" height="16" fill="none" stroke="#6e6e6e"/>
<rect x="106.5" y="565.5" width="6" height="16" fill="none" stroke="#6e6e6e"/>
<rect x="117.5" y="565.5" width="6" height="16" fill="none" stroke="#6e6e6e"/>
<rect x="129.5" y="565.5" width="6" height="16" fill="none" stroke="#6e6e6e"/>
<rect x="140.5" y="565.5" width="6" height="16" fill="none" stroke="#6e6e6e"/>
<rect x="152.5" y="565.5" width="6" height="16" fill="none" stroke="#6e6e6e"/>
<rect x="164.5" y="565.5" width="6" height="16" fill="none" stroke="#6e6e6e"/>
<rect x="175.5" y="565.5" width="6" height="16" fill="none" stroke="#6e6e6e"/>
<rect x="187.5" y="565.5" width="6" height="16" fill="none" stroke="#6e6e6e"/>
<rect x="199.5" y="565.5" width="6" height="16" fill="none" stroke="#6e6e6e"/>
<rect x="210.5" y="565.5" width="6" height="16" fill="none" stroke="#6e6e6e"/>
<rect x="222.5" y="565.5" width="6" height="16" fill="none" stroke="#6e6e6e"/>
<rect x="234.5" y="565.5" width="6" height="16" fill="none" stroke="#6e6e6e"/>
<rect x="245.5" y="565.5" width="6" height="16" fill="none" stroke="#6e6e6e"/>
<rect x="257.5" y="565.5" width="6" height="16" fill="none" stroke="#6e6e6e"/>
<rect x="268.5" y="565.5" width="6" height="16" fill="none" stroke="#6e6e6e"/>
<rect x="280.5" y="565.5" width="6" height="16" fill="none" stroke="#6e6e6e"/>
<rect x="292.5" y="565.5" width="6" height="16" fill="none" stroke="#6e6e6e"/>
<rect x="303.5" y="565.5" width="6" height="16" fill="none" stroke="#6e6e6e"/>
<rect x="315.5" y="565.5" width="6" height="16" fill="none" stroke="#6e6e6e"/>
<rect x="327.5" y="565.5" width="6" height="16" fill="none" stroke="#6e6e6e"/>
<rect x="338.5" y="565.5" width="6" height="16" fill="none" stroke="#6e6e6e"/>
<rect x="350.5" y="565.5" width="6" height="16" fill="none" stroke="#6e6e6e"/>
<rect x="362.5" y="565.5" width="6" height="16" fill="none" stroke="#6e6e6e"/>
<rect x="373.5" y="565.5" width="6" height="16" fill="none" stroke="#6e6e6e"/>
<rect x="385.5" y="565.5" width="6" height="16" fill="none" stroke="#6e6e6e"/>
<rect x="396.5" y="565.5" width="6" height="16" fill="none" stroke="#6e6e6e"/>
<rect x="408.5" y="565.5" width="6" height="16" fill="none" stroke="#6e6e6e"/>
<rect x="420.5" y="565.5" width="6" height="16" fill="none" stroke="#6e6e6e"/>
<rect x="431.5" y="565.5" width="6" height="16" fill="none" stroke="#6e6e6e"/>
<rect x="443.5" y="565.5" width="6" height="16" fill="none" stroke="#6e6e6e"/>
<rect x="455.5" y="565.5" width="6" height="16" fill="none" stroke="#6e6e6e"/>
<rect x="466.5" y="565.5" width="6" height="16" fill="none" stroke="#6e6e6e"/>
<rect x="478.5" y="565.5" width="6" height="16" fill="none" stroke="#6e6e6e"/>
<rect x="490.5" y="565.5" width="6" height="16" fill="none" stroke="#6e6e6e"/>
<rect x="501.5" y="565.5" width="6" height="16" fill="none" stroke="#6e6e6e"/>
<rect x="513.5" y="565.5" width="6" height="16" fill="none" stroke="#6e6e6e"/>
<rect x="524.5" y="565.5" width="6" height="16" fill="none" stroke="#6e6e6e"/>
<rect x="536.5" y="565.5" width="6" height="16" fill="none" stroke="#6e6e6e"/>
<rect x="548.5" y="565.5" width="6" height="16" fill="none" stroke="#6e6e6e"/>
<rect x="559.5" y="565.5" width="6" height="16" fill="none" stroke="#6e6e6e"/>
<rect x="571.5" y="565.5" width="6" height="16" fill="none" stroke="#6e6e6e"/>
<rect x="583.5" y="565.5" width="6" height="16" fill="none" stroke="#6e6e6e"/>
<rect x="594.5" y="565.5" width="6" height="16" fill="none" stroke="#6e6e6e"/>
<rect x="606.5" y="565.5" width="6" height="16" fill="none" stroke="#6e6e6e"/>
<rect x="618.5" y="565.5" width="6" height="16" fill="none" stroke="#6e6e6e"/>
<rect x="629.5" y="565.5" width="6" height="16" fill="none" stroke="#6e6e6e"/>
<rect x="641.5" y="565.5" width="6" height="16" fill="none" stroke="#6e6e6e"/>
<rect x="652.5" y="565.5" width="6" height="16" fill="none" stroke="#6e6e6e"/>
<rect x="664.5" y="565.5" width="6" height="16" fill="none" stroke="#6e6e6e"/>
<rect x="676.5" y="565.5" width="6" height="16" fill="none" stroke="#6e6e6e"/>
<rect x="687.5" y="565.5" width="6" height="16" fill="none" stroke="#6e6e6e"/>
<rect x="699.5" y="565.5" width="6" height="16" fill="none" stroke="#6e6e6e"/>
<rect x="711.5" y="565.5" width="6" height="16" fill="none" stroke="#6e6e6e"/>
<rect x="722.5" y="565.5" width="6" height="16" fill="none" stroke="#6e6e6e"/>
<rect x="734.5" y="565.5" width="6" height="16" fill="none" stroke="#6e6e6e"/>
<rect x="745.5" y="565.5" width="6" height="16" fill="none" stroke="#6e6e6e"/>
<rect x="757.5" y="565.5" width="6" height="16" fill="none" stroke="#6e6e6e"/>
<rect x="769.5" y="565.5" width="6" height="16" fill="none" stroke="#6e6e6e"/>
<rect x="780.5" y="565.5" width="6" height="16" fill="none" stroke="#6e6e6e"/>
<rect x="792.5" y="565.5" width="6" height="16" fill="none" stroke="#6e6e6e"/>
<rect x="804.5" y="565.5" width="6" height="16" fill="none" stroke="#6e6e6e"/>
<rect x="815.5" y="565.5" width="6" height="16" fill="none" stroke="#6e6e6e"/>
<rect x="827.5" y="565.5" width="6" height="16" fill="none" stroke="#6e6e6e"/>
<rect x="839.5" y="565.5" width="6" height="16" fill="none" stroke="#6e6e6e"/>
<rect x="850.5" y="565.5" width="6" height="16" fill="none" stroke="#6e6e6e"/>
<rect x="862.5" y="565.5" width="6" height="16" fill="none" stroke="#6e6e6e"/>
<rect x="873.5" y="565.5" width="6" height="16" fill="none" stroke="#6e6e6e"/>
<rect x="885.5" y="565.5" width="6" height="16" fill="none" stroke="#6e6e6e"/>
<rect x="897.5" y="565.5" width="6" height="16" fill="none" stroke="#6e6e6e"/>
<rect x="908.5" y="565.5" width="6" height="16" fill="none" stroke="#6e6e6e"/>
<rect x="920.5" y="565.5" width="6" height="16" fill="none" stroke="#6e6e6e"/>
<rect x="932.5" y="565.5" width="6" height="16" fill="none" stroke="#6e6e6e"/>
<rect x="943.5" y="565.5" width="6" height="16" fill="none" stroke="#6e6e6e"/>
<rect x="955.5" y="565.5" width="6" height="16" fill="none" stroke="#6e6e6e"/>
<rect x="967.5" y="565.5" width="6" height="16" fill="none" stroke="#6e6e6e"/>
<rect x="978.5" y="565.5" width="6" height="16" fill="none" stroke="#6e6e6e"/>
<rect x="990.5" y="565.5" width="6" height="16" fill="none" stroke="#6e6e6e"/>
<rect x="1001.5" y="565.5" width="6" height="16" fill="none" stroke="#6e6e6e"/>
<rect x="1013.5" y="565.5" width="6" height="16" fill="none" stroke="#6e6e6e"/>
<rect x="1025.5" y="565.5" width="6" height="16" fill="none" stroke="#6e6e6e"/>
<rect x="1036.5" y="565.5" width="6" height="16" fill="none" stroke="#6e6e6e"/>
<use href="#gem" x="102.8" y="568"/>
<use href="#gem" x="113.8" y="568"/>
<use href="#gem" x="125.8" y="568"/>
<use href="#gem" x="136.8" y="568"/>
<use href="#gem" x="148.8" y="568"/>
<use href="#gem" x="160.8" y="568"/>
<use href="#gem" x="171.8" y="568"/>
<use href="#gem" x="183.8" y="568"/>
<use href="#gem" x="195.8" y="568"/>
<use href="#gem" x="206.8" y="568"/>
<use href="#gem" x="218.8" y="568"/>
<use href="#gem" x="230.8" y="568"/>
<use href="#gem" x="241.8" y="568"/>
<use href="#gem" x="253.8" y="568"/>
<use href="#gem" x="264.8" y="568"/>
<use href="#gem" x="276.8" y="568"/>
<use href="#gem" x="288.8" y="568"/>
<use href="#gem" x="823.8" y="568"/>
<use href="#gem" x="835.8" y="568"/>
<use href="#gem" x="846.8" y="568"/>
<use href="#gem" x="858.8" y="568"/>
<use href="#gem" x="869.8" y="568"/>
<use href="#gem" x="881.8" y="568"/>
<use href="#gem" x="893.8" y="568"/>
<use href="#gem" x="904.8" y="568"/>
<use href="#gem" x="916.8" y="568"/>
<use href="#gem" x="928.8" y="568"/>
<use href="#gem" x="939.8" y="568"/>
<use href="#gem" x="951.8" y="568"/>
<use href="#gem" x="963.8" y="568"/>
<use href="#gem" x="974.8" y="568"/>
<use href="#gem" x="986.8" y="568"/>
<use href="#gem" x="997.8" y="568"/>
<use href="#gem" x="1009.8" y="568"/>
<use href="#gem" x="1021.8" y="568"/>
<use href="#gem" x="1032.8" y="568"/>
<text x="1044" y="480" font-size="12" fill="#ffffff">-趋势</text>
<text x="1041" y="512" font-size="12" fill="#ffffff">--强度</text>
<text x="1041" y="545" font-size="12" fill="#ffffff">--活跃</text>
<text x="1049" y="577.5" font-size="12" fill="#ffffff">人气</text>
<rect x="0" y="584" width="1086" height="1" fill="#2e2e2e"/>
</svg></body></html>
